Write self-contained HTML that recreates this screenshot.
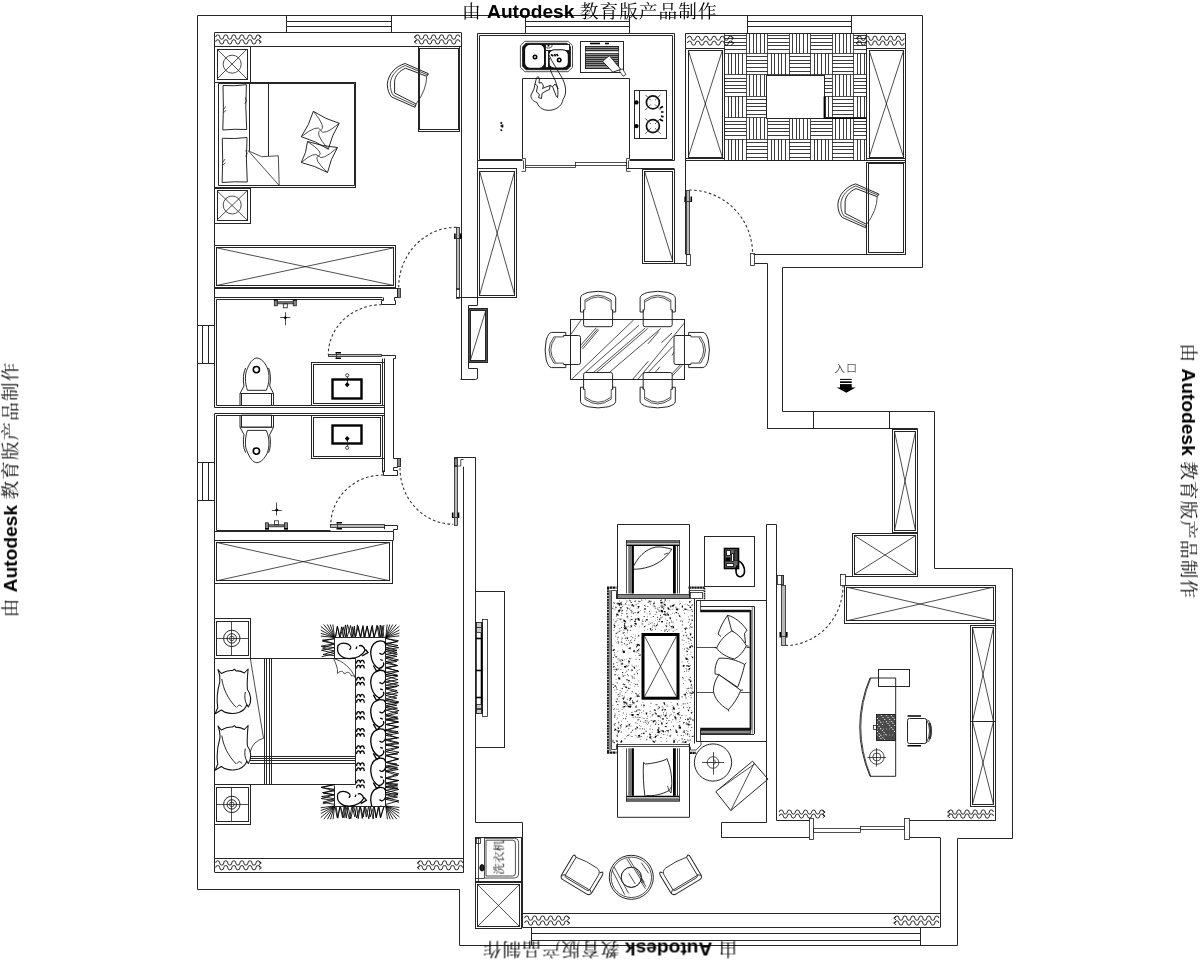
<!DOCTYPE html>
<html lang="zh"><head><meta charset="utf-8"><title>由 Autodesk 教育版产品制作</title>
<style>
html,body{margin:0;padding:0;background:#fff;}
body{width:1200px;height:960px;overflow:hidden;font-family:"Liberation Sans","Noto Serif CJK SC",sans-serif;}
svg{display:block;}
svg *{vector-effect:none;}
.g line,.g polyline,.g polygon,.g rect,.g circle,.g path,.g ellipse{fill:none;stroke:#262626;stroke-width:1;}
.g .t{stroke-width:.8;stroke:#222;}
.g .w{stroke-width:.9;stroke:#111;stroke-linejoin:round;}
.g .d{stroke-dasharray:2.6 2.4;stroke-width:1.1;stroke:#333;}
.g .k{stroke-width:2.4;stroke:#000;}
.g .k2{stroke-width:1.6;stroke:#000;}
.g .h{stroke-width:.9;stroke:#262626;}
.g .gf{fill:#888;stroke:#222;stroke-width:.8;}
.g .wf{fill:#fff;}
.g .bf{fill:#000;stroke:none;}
.g .dot{fill:#000;stroke:none;}
text{fill:#000;font-family:"Liberation Sans","Noto Serif CJK SC",serif;}
.cj{font-family:"Noto Serif CJK SC","Liberation Serif",serif;font-size:18.7px;letter-spacing:1px;}
.b{font-family:"Liberation Sans",sans-serif;font-weight:bold;}
</style></head><body>
<svg width="1200" height="960" viewBox="0 0 1200 960">
<rect width="1200" height="960" fill="#fff"/>
<g class="g">
<polygon points="197.5,15.5 922.5,15.5 922.5,267.5 782.5,267.5 782.5,411.5 934.5,411.5 934.5,568.5 1012.5,568.5 1012.5,838.5 957.5,838.5 957.5,945.5 459.5,945.5 459.5,889.5 197.5,889.5"/>
<line x1="214.5" y1="32.5" x2="461" y2="32.5"/>
<line x1="214.5" y1="32.5" x2="214.5" y2="407.5"/>
<line x1="214.5" y1="413.5" x2="214.5" y2="872"/>
<line x1="461.5" y1="32.5" x2="461.5" y2="379.2"/>
<line x1="286.7" y1="21.5" x2="391.3" y2="21.5"/>
<line x1="286.7" y1="26.5" x2="391.3" y2="26.5"/>
<line x1="286.5" y1="15.5" x2="286.5" y2="32.5"/>
<line x1="391.5" y1="15.5" x2="391.5" y2="32.5"/>
<line x1="214.5" y1="46.5" x2="461" y2="46.5"/>
<path d="M215.7 37.05 a2.01 2.15 0 0 1 4.03 0 a2.01 2.15 0 0 0 4.03 0 a2.01 2.15 0 0 1 4.03 0 a2.01 2.15 0 0 0 4.03 0 a2.01 2.15 0 0 1 4.03 0 a2.01 2.15 0 0 0 4.03 0 a2.01 2.15 0 0 1 4.03 0 a2.01 2.15 0 0 0 4.03 0 a2.01 2.15 0 0 1 4.03 0 a2.01 2.15 0 0 0 4.03 0 a2.01 2.15 0 0 1 4.03 0" class="w"/>
<path d="M215.7 41.88 a2.01 2.15 0 0 1 4.03 0 a2.01 2.15 0 0 0 4.03 0 a2.01 2.15 0 0 1 4.03 0 a2.01 2.15 0 0 0 4.03 0 a2.01 2.15 0 0 1 4.03 0 a2.01 2.15 0 0 0 4.03 0 a2.01 2.15 0 0 1 4.03 0 a2.01 2.15 0 0 0 4.03 0 a2.01 2.15 0 0 1 4.03 0 a2.01 2.15 0 0 0 4.03 0 a2.01 2.15 0 0 1 4.03 0" class="w"/>
<polyline points="258.9,35.25 261.3,37.05 258.9,38.85" class="w"/>
<polyline points="258.9,40.08 261.3,41.88 258.9,43.68" class="w"/>
<path d="M415.5 37.05 a2.01 2.15 0 0 1 4.03 0 a2.01 2.15 0 0 0 4.03 0 a2.01 2.15 0 0 1 4.03 0 a2.01 2.15 0 0 0 4.03 0 a2.01 2.15 0 0 1 4.03 0 a2.01 2.15 0 0 0 4.03 0 a2.01 2.15 0 0 1 4.03 0 a2.01 2.15 0 0 0 4.03 0 a2.01 2.15 0 0 1 4.03 0 a2.01 2.15 0 0 0 4.03 0 a2.01 2.15 0 0 1 4.03 0" class="w"/>
<path d="M415.5 41.88 a2.01 2.15 0 0 1 4.03 0 a2.01 2.15 0 0 0 4.03 0 a2.01 2.15 0 0 1 4.03 0 a2.01 2.15 0 0 0 4.03 0 a2.01 2.15 0 0 1 4.03 0 a2.01 2.15 0 0 0 4.03 0 a2.01 2.15 0 0 1 4.03 0 a2.01 2.15 0 0 0 4.03 0 a2.01 2.15 0 0 1 4.03 0 a2.01 2.15 0 0 0 4.03 0 a2.01 2.15 0 0 1 4.03 0" class="w"/>
<polyline points="416.6,35.25 414.2,37.05 416.6,38.85" class="w"/>
<polyline points="416.6,40.08 414.2,41.88 416.6,43.68" class="w"/>
<rect x="418.5" y="46.5" width="41" height="85"/>
<rect x="419.5" y="48.5" width="39" height="81"/>
<rect x="214.5" y="46.5" width="36" height="36"/>
<rect x="217.5" y="49.5" width="30" height="30"/>
<line x1="217" y1="49.1" x2="247" y2="79" class="t"/>
<line x1="217" y1="79" x2="247" y2="49.1" class="t"/>
<circle cx="232.2" cy="64.2" r="9" class="t"/>
<rect x="214.5" y="188.5" width="36" height="35"/>
<rect x="217.5" y="190.5" width="30" height="30"/>
<line x1="217" y1="190.8" x2="247" y2="220" class="t"/>
<line x1="217" y1="220" x2="247" y2="190.8" class="t"/>
<circle cx="232.2" cy="205" r="9" class="t"/>
<rect x="214.5" y="82.5" width="141" height="105"/>
<polygon points="218.5,83.5 354.5,83.5 354.5,185.5 218.5,185.5"/>
<line x1="249.5" y1="83.7" x2="249.5" y2="150.8"/>
<line x1="268.5" y1="83.7" x2="268.5" y2="156"/>
<rect x="214.5" y="245.5" width="181" height="42"/>
<rect x="216.5" y="247.5" width="177" height="38"/>
<line x1="216.5" y1="247.8" x2="393.8" y2="285.5" class="t"/>
<line x1="216.5" y1="285.5" x2="393.8" y2="247.8" class="t"/>
<line x1="214.5" y1="288.5" x2="397.5" y2="288.5"/>
<polyline points="382.5,297.5 214.5,297.5"/>
<polyline points="382.5,299.5 216.5,299.5 216.5,405.5 382.5,405.5 382.5,358.5"/>
<line x1="214.5" y1="407.5" x2="384.5" y2="407.5"/>
<line x1="202.5" y1="325.5" x2="202.5" y2="363.7"/>
<line x1="208.5" y1="325.5" x2="208.5" y2="363.7"/>
<line x1="197.5" y1="325.5" x2="214.5" y2="325.5"/>
<line x1="197.5" y1="363.5" x2="214.5" y2="363.5"/>
<line x1="214.5" y1="413.5" x2="384.5" y2="413.5"/>
<polyline points="382.5,472.5 382.5,415.5 216.5,415.5 216.5,530.5 330.5,530.5"/>
<line x1="202.5" y1="462.3" x2="202.5" y2="500"/>
<line x1="208.5" y1="462.3" x2="208.5" y2="500"/>
<line x1="197.5" y1="462.5" x2="214.5" y2="462.5"/>
<line x1="197.5" y1="500.5" x2="214.5" y2="500.5"/>
<polyline points="214.5,531.5 393.5,531.5 393.5,540.5"/>
<rect x="214.5" y="540.5" width="178" height="43"/>
<rect x="216.5" y="542.5" width="173" height="38"/>
<line x1="216.7" y1="542.5" x2="389.8" y2="580.8" class="t"/>
<line x1="216.7" y1="580.8" x2="389.8" y2="542.5" class="t"/>
<path d="M223 85.5 Q234.6 86.3 246.4 84.7 Q245.1 107.35 246.7 129.5 Q234.6 128.8 222.8 130 Q223.9 107.35 223 85.5 Z" class="w"/>
<polyline points="245.2,97.38 246.5,101.01 244.9,103.73" class="t"/>
<polyline points="223.5,109.62 225.7,106.44" class="t"/>
<polyline points="223.5,112.79 226.1,110.07" class="t"/>
<path d="M222.3 138.3 Q234.55 139.1 247 137.5 Q245.7 160 247.3 182 Q234.55 181.3 222.1 182.5 Q223.2 160 222.3 138.3 Z" class="w"/>
<polyline points="245.8,150.1 247.1,153.7 245.5,156.4" class="t"/>
<polyline points="222.8,162.25 225,159.1" class="t"/>
<polyline points="222.8,165.4 225.4,162.7" class="t"/>
<polyline points="248.3,150.8 261.7,156.7 278.3,155.8 279.2,185.5" class="t"/>
<line x1="248.3" y1="150.8" x2="279.2" y2="185.5" class="t"/>
<path d="M313.3 111.3 Q325.33 119.35 339.2 123.3 Q331.63 135.27 328.3 149.2 Q315.72 140.9 301.3 136.7 Q309.42 124.98 313.3 111.3" class="w"/>
<path d="M313.3 111.3 Q327.06 127.74 320.52 130.12" class="t"/>
<path d="M339.2 123.3 Q323.25 136.8 320.52 130.12" class="t"/>
<path d="M328.3 149.2 Q313.8 132.43 320.52 130.12" class="t"/>
<path d="M301.3 136.7 Q318 123.54 320.52 130.12" class="t"/>
<path d="M307.5 141.5 Q321.85 146.34 337.5 147.5 Q330.25 159.36 327.5 172.5 Q315.05 165.66 301.3 162.5 Q306.65 152.64 307.5 141.5" class="w"/>
<path d="M307.5 141.5 Q325.12 153.03 318.45 156" class="t"/>
<path d="M337.5 147.5 Q321.62 161.78 318.45 156" class="t"/>
<path d="M327.5 172.5 Q312.45 158.28 318.45 156" class="t"/>
<path d="M301.3 162.5 Q314.62 150.93 318.45 156" class="t"/>
<g transform="translate(0 0)">
<path d="M428.5 73.7 L405.2 63.5 C396 66 388 74 387.3 84.3 C387.5 90 389 94 391.7 97 L415 107.3 L416.1 104"/>
<path d="M427.8 74.9 L405.3 65.6 C398 68 390.5 75 390.3 84 C390.3 89 391.5 93 393.3 95.3 L415.6 105.6" class="t"/>
<path d="M426.7 76.3 L405.5 68.2 C399 71 395 76 394.6 81.4 L394.6 93 L416.1 104"/>
<line x1="428.5" y1="73.7" x2="426.7" y2="76.3"/>
<path d="M426.7 76.3 Q426.6 89.85 416.1 104" class="t"/>
</g>
<path d="M247.4 390.3 C245 383 244.5 374 247.4 368.6 C249.5 363.5 252.5 358.3 256.8 358 C261.5 358.3 265 363 267 367.2 C270 374 269.5 383 266.3 390.3 Z" class="w"/>
<path d="M240 405 L240 393.5 L244 386 C242.8 379 243.2 373 245.6 368" class="w"/>
<path d="M273.5 405 L273.5 393.5 L269.7 386 C271 379 270.6 373 268.6 368" class="w"/>
<rect x="241.5" y="393.5" width="30" height="12"/>
<line x1="240" y1="393.5" x2="273.5" y2="393.5" class="t"/>
<circle cx="256.4" cy="369.6" r="3.1" class="k2"/>
<g transform="translate(0 820.7) scale(1 -1)">
<path d="M247.4 390.3 C245 383 244.5 374 247.4 368.6 C249.5 363.5 252.5 358.3 256.8 358 C261.5 358.3 265 363 267 367.2 C270 374 269.5 383 266.3 390.3 Z" class="w"/>
<path d="M240 405 L240 393.5 L244 386 C242.8 379 243.2 373 245.6 368" class="w"/>
<path d="M273.5 405 L273.5 393.5 L269.7 386 C271 379 270.6 373 268.6 368" class="w"/>
<rect x="241.5" y="393.5" width="30" height="12"/>
<line x1="240" y1="393.5" x2="273.5" y2="393.5" class="t"/>
<circle cx="256.4" cy="369.6" r="3.1" class="k2"/>
</g>
<g transform="translate(273.8 299.3)">
<rect x="0.5" y="0.5" width="3" height="6" class="gf"/>
<rect x="19.5" y="0.5" width="3" height="6" class="gf"/>
<rect x="3.5" y="2.5" width="16" height="2" class="gf"/>
<rect x="9.5" y="4.5" width="4" height="4" class="t"/>
<line x1="0" y1="0.5" x2="4" y2="0.5" class="k2"/>
<line x1="19" y1="0.5" x2="23" y2="0.5" class="k2"/>
</g>
<g transform="translate(265 529.3) scale(1 -1)">
<rect x="0.5" y="0.5" width="3" height="6" class="gf"/>
<rect x="19.5" y="0.5" width="3" height="6" class="gf"/>
<rect x="3.5" y="2.5" width="16" height="2" class="gf"/>
<rect x="9.5" y="4.5" width="4" height="4" class="t"/>
<line x1="0" y1="0.5" x2="4" y2="0.5" class="k2"/>
<line x1="19" y1="0.5" x2="23" y2="0.5" class="k2"/>
</g>
<line x1="280.3" y1="317.5" x2="290.3" y2="317.5" class="t"/>
<line x1="285.5" y1="312.3" x2="285.5" y2="325.3" class="t"/>
<polygon points="283.5,317.8 285.3,316 287.1,317.8 285.3,319.6" class="bf"/>
<line x1="271.8" y1="510.5" x2="281.8" y2="510.5" class="t"/>
<line x1="276.5" y1="515.5" x2="276.5" y2="502.5" class="t"/>
<polygon points="275,510 276.8,508.2 278.6,510 276.8,511.8" class="bf"/>
<rect x="311.5" y="362.5" width="73" height="43"/>
<rect x="313.5" y="364.5" width="67" height="39"/>
<rect x="332.5" y="379.5" width="29" height="19" class="k"/>
<line x1="347.5" y1="375.3" x2="347.5" y2="384.7" class="t"/>
<circle cx="347.2" cy="375.3" r="1.6" class="t" style="fill:#fff"/>
<polygon points="344.8,384.7 347.2,382.1 349.6,384.7 347.2,387.3" class="bf"/>
<rect x="311.5" y="415.5" width="73" height="43"/>
<rect x="313.5" y="417.5" width="67" height="39"/>
<rect x="332.5" y="425.5" width="29" height="18" class="k"/>
<line x1="347.5" y1="447.8" x2="347.5" y2="438.6" class="t"/>
<circle cx="347.2" cy="447.8" r="1.6" class="t" style="fill:#fff"/>
<polygon points="344.8,438.6 347.2,436 349.6,438.6 347.2,441.2" class="bf"/>
<rect x="456.5" y="227.5" width="3" height="62" class="t" style="fill:#b8b8b8"/>
<path d="M454.9 233.5 v5.5 M460.7 233.5 v5.5" class="k2"/>
<line x1="454.9" y1="238.5" x2="460.7" y2="238.5" class="t"/>
<rect x="456.5" y="288.5" width="3" height="10" class="t"/>
<path d="M456.4 227.3 A57.7 60 0 0 0 398.7 287.3" class="d"/>
<rect x="397.5" y="288.5" width="3" height="9" class="gf"/>
<polyline points="397.5,288.5 397.5,297.5 394.5,297.5 394.5,300.5 395.5,300.5 395.5,304.5 381.5,304.5 381.5,300.5 383.5,300.5 383.5,297.5"/>
<path d="M381.7 304.7 A53.4 50 0 0 0 328.3 354.4" class="d"/>
<rect x="328.5" y="354.5" width="53" height="2" class="t" style="fill:#b8b8b8"/>
<path d="M335.5 352.7 h5.5 M335.5 358.3 h5.5" class="k2"/>
<line x1="336.5" y1="352.7" x2="336.5" y2="358.3" class="t"/>
<polyline points="381.5,355.5 395.5,355.5 395.5,358.5 393.5,358.5 393.5,458.5"/>
<line x1="384.5" y1="358.4" x2="384.5" y2="472"/>
<polyline points="393.5,458.5 400.5,458.5 400.5,466.5 397.5,466.5 397.5,467.5 393.5,467.5 393.5,470.5 397.5,470.5 397.5,475.5 383.5,475.5 383.5,470.5"/>
<rect x="397.5" y="458.5" width="3" height="8" class="gf"/>
<path d="M383.3 475 A52.5 50 0 0 0 330.8 525" class="d"/>
<rect x="330.5" y="524.5" width="54" height="3" class="t" style="fill:#b8b8b8"/>
<path d="M336.5 522.8 h5.5 M336.5 528.8 h5.5" class="k2"/>
<line x1="337.5" y1="522.8" x2="337.5" y2="528.8" class="t"/>
<polyline points="384.5,525.5 397.5,525.5 397.5,529.5 393.5,529.5 393.5,531.5"/>
<line x1="384.5" y1="529.2" x2="384.5" y2="525.8"/>
<path d="M400 468 A53.3 56 0 0 0 453.3 524.2" class="d"/>
<rect x="454.5" y="466.5" width="3" height="59" class="t" style="fill:#b8b8b8"/>
<path d="M452.7 512.5 v5.5 M458.5 512.5 v5.5" class="k2"/>
<line x1="452.7" y1="517.5" x2="458.5" y2="517.5" class="t"/>
<polyline points="454.5,466.5 454.5,457.5 475.5,457.5 475.5,822.5 522.5,822.5 522.5,927.5"/>
<polyline points="454.7,466 460.8,466 460.8,459.5 463.6,459.5" class="t"/>
<rect x="454.5" y="458.5" width="3" height="7" class="gf"/>
<line x1="463.5" y1="466.7" x2="463.5" y2="872"/>
<rect x="214.5" y="618.5" width="36" height="40"/>
<rect x="216.5" y="621.5" width="32" height="34"/>
<line x1="216.7" y1="638.5" x2="248.2" y2="638.5" class="t"/>
<line x1="231.5" y1="621.2" x2="231.5" y2="655.3" class="t"/>
<circle cx="231.8" cy="638.4" r="8.2"/>
<circle cx="231.8" cy="638.4" r="4.7"/>
<circle cx="231.8" cy="638.4" r="2.3" class="t"/>
<rect x="214.5" y="784.5" width="36" height="40"/>
<rect x="216.5" y="787.5" width="32" height="34"/>
<line x1="216.7" y1="804.5" x2="248.2" y2="804.5" class="t"/>
<line x1="231.5" y1="787" x2="231.5" y2="821" class="t"/>
<circle cx="231.8" cy="804.4" r="8.2"/>
<circle cx="231.8" cy="804.4" r="4.7"/>
<circle cx="231.8" cy="804.4" r="2.3" class="t"/>
<polyline points="250.5,658.5 355.5,658.5 355.5,784.5 250.5,784.5"/>
<line x1="264.5" y1="658.5" x2="264.5" y2="784.5"/>
<line x1="266.5" y1="658.5" x2="266.5" y2="784.5"/>
<line x1="269.5" y1="658.5" x2="269.5" y2="784.5"/>
<line x1="271.5" y1="658.5" x2="271.5" y2="784.5"/>
<line x1="250" y1="756.5" x2="355.5" y2="756.5"/>
<line x1="250" y1="758.5" x2="355.5" y2="758.5"/>
<line x1="250" y1="760.5" x2="355.5" y2="760.5"/>
<line x1="250" y1="763.5" x2="355.5" y2="763.5"/>
<line x1="250.3" y1="658.3" x2="263.5" y2="738.3" class="t"/>
<path d="M263.5 738.3 Q253 741 250.3 751.7" class="t"/>
<g transform="translate(214.8 668)">
<path d="M3.2 1.5 L6.5 5.5 C10 3.5 14 2.2 17.5 2.6 L19.5 1.2 L21.5 3 C24 2.6 27 3.5 29.5 5 L33.3 1 C32.6 9 32 16 32.6 21.5 C36.5 26 37 34 33.5 39 L32 36.5 C31 40 28 43 24 44.5 C17 46.5 10 45 6.5 42 L.3 45.8 L3 39.5 C1.5 31 3 21 5 14 C5.6 9 4.6 5 3.2 1.5 Z" style="stroke-width:1.05;stroke:#111;stroke-linejoin:round"/>
<path d="M7 11 C8.5 21 13 31 21.5 39.5" class="w"/>
<path d="M22.5 39 C23.5 36.5 26 36.5 26.8 39" class="w"/>
<path d="M30.5 24 C29.5 29 30 33 32 36.5" class="w"/>
</g>
<g transform="translate(214.8 724.5)">
<path d="M3.2 1.5 L6.5 5.5 C10 3.5 14 2.2 17.5 2.6 L19.5 1.2 L21.5 3 C24 2.6 27 3.5 29.5 5 L33.3 1 C32.6 9 32 16 32.6 21.5 C36.5 26 37 34 33.5 39 L32 36.5 C31 40 28 43 24 44.5 C17 46.5 10 45 6.5 42 L.3 45.8 L3 39.5 C1.5 31 3 21 5 14 C5.6 9 4.6 5 3.2 1.5 Z" style="stroke-width:1.05;stroke:#111;stroke-linejoin:round"/>
<path d="M7 11 C8.5 21 13 31 21.5 39.5" class="w"/>
<path d="M22.5 39 C23.5 36.5 26 36.5 26.8 39" class="w"/>
<path d="M30.5 24 C29.5 29 30 33 32 36.5" class="w"/>
</g>
<clipPath id="frc"><rect x="320.8" y="624.5" width="78.6" height="194.8"/></clipPath>
<path clip-path="url(#frc)" d="M335.29 637.5 L337.48 626.73 L339.71 637.5 L341.5 626.81 L343.34 637.5 L345.45 624.92 L346.95 637.5 L350.58 625.51 L352.91 637.5 L354.36 626.2 L355.26 637.5 L358.21 626.47 L360.66 637.5 L362.8 626.75 L364.01 637.5 L367.13 626.15 L369.84 637.5 L372.34 625.22 L374.07 637.5 L376.98 625.15 L379.18 637.5 L380.24 625.08 L382.13 637.5 L383.93 625.07M335.95 806 L337.86 818.23 L340.23 806 L344 817.94 L345.77 806 L349.38 819.18 L352.08 806 L354.82 816.85 L356.64 806 L358.24 818.64 L360.23 806 L363.26 816.99 L365.27 806 L368.86 818.87 L370.43 806 L373.21 819.1 L374.16 806 L376.2 817.96 L378.91 806 L380.61 817.69 L383.88 806M385.8 638.52 L398.42 640.7 L385.8 644.87 L398.71 647.65 L385.8 649.61 L396.95 652.33 L385.8 654.36 L396.93 656.35 L385.8 658.27 L396.86 661.43 L385.8 663.28 L397.63 665.55 L385.8 667.87 L397.92 670.92 L385.8 672.14 L397.44 675.19 L385.8 676.05 L398.07 679.6 L385.8 682.04 L399.15 685.6 L385.8 687.77 L397.2 690.62 L385.8 693.19 L397.34 695.39 L385.8 698.91 L398.76 701.89 L385.8 703.57 L396.87 705.2 L385.8 707.53 L399.1 710.64 L385.8 714.67 L397.68 717.16 L385.8 719.08 L398.3 721.83 L385.8 724.51 L398.72 726.84 L385.8 730.65 L398.6 733.2 L385.8 735.43 L398.72 737.81 L385.8 739.42 L398.54 742.54 L385.8 744.27 L398.74 747.57 L385.8 751.73 L397.64 754.02 L385.8 755.14 L398.36 759.2 L385.8 762.46 L398.78 765.43 L385.8 767.53 L398.21 769.48 L385.8 771.66 L397.65 775.37 L385.8 778.57 L399 780.43 L385.8 783.02 L397.86 784.15 L385.8 786.4 L397.94 788.15 L385.8 790.29 L398.13 793.37 L385.8 794.82 L397.46 797.07 L385.8 799.33 L398.99 802.21M334.5 638.51 L322.46 641.17 L334.5 643.97 L322.48 648.1 L334.5 651.02 L323.06 654.54 L334.5 655.6M334.5 784.49 L320.98 787.34 L334.5 790.93 L322.52 792.6 L334.5 794.79 L321.33 798.59 L334.5 800.51 L322.8 803.88M335.52 637.5 L337.31 626.14 L340.05 637.5 L343.16 626.86 L345.54 637.5 L347.4 624.54 L351.56 637.5 L352.42 626.8 L355.49 637.5 L357.43 624.71 L360.37 637.5 L362.96 625.53 L364.87 637.5 L367.2 625.88 L369.14 637.5 L371.75 626.7 L374.08 637.5 L377.77 626.09 L380.94 637.5 L382.02 625.64 L383.98 637.5M334.96 806 L337.18 817.53 L340.17 806 L342.54 817.63 L344.16 806 L346.27 818.12 L347.84 806 L350.77 818.77 L353.6 806 L356.64 818.02 L360.23 806 L362.23 818.5 L364.49 806 L366.26 817.11 L368.73 806 L370.05 817 L374.08 806 L376.21 817.38 L378.51 806 L380.31 817.43 L384.37 806M385.8 638.19 L397.54 641.76 L385.8 643.29 L398.01 645.52 L385.8 647.8 L397.02 650.3 L385.8 651.43 L397.36 654.22 L385.8 656.97 L398.52 659.94 L385.8 661.56 L397.16 665.5 L385.8 667.47 L398.94 671.34 L385.8 674.53 L398.06 675.94 L385.8 679.47 L398.2 682.73 L385.8 685.36 L396.87 686.65 L385.8 688.83 L398.14 692.63 L385.8 695.45 L396.81 698.07 L385.8 700.71 L398.38 702.76 L385.8 705.95 L397.44 708.17 L385.8 710.1 L397.99 713.12 L385.8 715.94 L398.28 718.92 L385.8 719.99 L398.58 722.18 L385.8 724.47 L397.45 726.88 L385.8 729.77 L398.04 731.6 L385.8 733.61 L397.28 737.93 L385.8 740.15 L398.77 743.71 L385.8 745.27 L399.07 747.12 L385.8 749.7 L399.09 752.24 L385.8 755.83 L398.49 758.77 L385.8 762.37 L396.81 763.93 L385.8 766.1 L397.63 767.9 L385.8 770.7 L398.81 773.85 L385.8 777.91 L397.5 780.81 L385.8 783.84 L397.67 785.84 L385.8 787.43 L398.8 789.42 L385.8 792.75 L398.03 794.71 L385.8 797.87 L398.75 800.75 L385.8 804.45M334.5 638.76 L322.56 640.17 L334.5 643.65 L320.92 646.22 L334.5 647.57 L321.51 650.25 L334.5 653.41 L321.52 656.8M334.5 784.6 L321.3 787.46 L334.5 789.33 L323.19 793.18 L334.5 794.79 L321.62 796.49 L334.5 798.82 L322.93 802.26 L334.5 804.37M334.5 637.5 L315.72 635.53M334.5 637.5 L316.63 632.04M334.5 637.5 L319.22 629.37M334.5 637.5 L320.21 625.93M334.5 637.5 L320.46 620.77M334.5 637.5 L325.95 622.08M334.5 637.5 L328.47 618.94M334.5 637.5 L332.04 617.5M385.8 637.5 L388.03 616.3M385.8 637.5 L391.09 620.21M385.8 637.5 L394.42 621.29M385.8 637.5 L397.28 623.32M385.8 637.5 L400.35 625.29M385.8 637.5 L402.62 628.18M385.8 637.5 L406.5 630.77M385.8 637.5 L406.89 634.91M385.8 806 L407.05 808.23M385.8 806 L402.16 811M385.8 806 L400.95 814.06M385.8 806 L401.77 818.93M385.8 806 L399.61 822.45M385.8 806 L395.19 822.94M385.8 806 L391.96 824.96M385.8 806 L387.87 822.87M334.5 806 L332.52 824.85M334.5 806 L328.17 826.69M334.5 806 L324.58 824.65M334.5 806 L321.11 822.54M334.5 806 L317.75 820.05M334.5 806 L318.54 814.84M334.5 806 L317.81 811.42M334.5 806 L316.86 808.17" style="stroke-width:.85;stroke:#000;stroke-linejoin:bevel"/>
<polyline points="334.5,658.5 334.5,637.5 385.5,637.5 385.5,806.5 334.5,806.5 334.5,785.5"/>
<path d="M356.5 663.5 c.3 -4.2 3.6 -4.2 3.8 -.4 c.4 -3.8 3.8 -3.8 4 .4 M356.5 668.5 c.3 -4.2 3.6 -4.2 3.8 -.4 c.4 -3.8 3.8 -3.8 4 .4" style="stroke-width:1.25;stroke:#000"/>
<path d="M356.5 680.6 c.3 -4.2 3.6 -4.2 3.8 -.4 c.4 -3.8 3.8 -3.8 4 .4 M356.5 685.6 c.3 -4.2 3.6 -4.2 3.8 -.4 c.4 -3.8 3.8 -3.8 4 .4" style="stroke-width:1.25;stroke:#000"/>
<path d="M356.5 697.7 c.3 -4.2 3.6 -4.2 3.8 -.4 c.4 -3.8 3.8 -3.8 4 .4 M356.5 702.7 c.3 -4.2 3.6 -4.2 3.8 -.4 c.4 -3.8 3.8 -3.8 4 .4" style="stroke-width:1.25;stroke:#000"/>
<path d="M356.5 714.8 c.3 -4.2 3.6 -4.2 3.8 -.4 c.4 -3.8 3.8 -3.8 4 .4 M356.5 719.8 c.3 -4.2 3.6 -4.2 3.8 -.4 c.4 -3.8 3.8 -3.8 4 .4" style="stroke-width:1.25;stroke:#000"/>
<path d="M356.5 731.9 c.3 -4.2 3.6 -4.2 3.8 -.4 c.4 -3.8 3.8 -3.8 4 .4 M356.5 736.9 c.3 -4.2 3.6 -4.2 3.8 -.4 c.4 -3.8 3.8 -3.8 4 .4" style="stroke-width:1.25;stroke:#000"/>
<path d="M356.5 749 c.3 -4.2 3.6 -4.2 3.8 -.4 c.4 -3.8 3.8 -3.8 4 .4 M356.5 754 c.3 -4.2 3.6 -4.2 3.8 -.4 c.4 -3.8 3.8 -3.8 4 .4" style="stroke-width:1.25;stroke:#000"/>
<path d="M356.5 766.1 c.3 -4.2 3.6 -4.2 3.8 -.4 c.4 -3.8 3.8 -3.8 4 .4 M356.5 771.1 c.3 -4.2 3.6 -4.2 3.8 -.4 c.4 -3.8 3.8 -3.8 4 .4" style="stroke-width:1.25;stroke:#000"/>
<path d="M356.5 783.2 c.3 -4.2 3.6 -4.2 3.8 -.4 c.4 -3.8 3.8 -3.8 4 .4 M356.5 788.2 c.3 -4.2 3.6 -4.2 3.8 -.4 c.4 -3.8 3.8 -3.8 4 .4" style="stroke-width:1.25;stroke:#000"/>
<clipPath id="rgc"><rect x="334.5" y="637.5" width="51.3" height="168.5"/></clipPath><g clip-path="url(#rgc)">
<g transform="translate(370.3 640) scale(1 1)">
<path d="M13.5 1.5 C5 -1 0 6 .5 14 C1 21 4 26 8.5 28.5 M13.5 1.5 C17.5 5 16 13 11.5 14.5 M11.5 14.5 l-2.4 -1.4 M12.5 20.5 l-2.6 -1 M8.5 28.5 C12 28 14.5 25 13 22.5 M3 25.5 L6.5 31.5 L9.5 29" style="stroke-width:1.3;stroke:#000"/>
</g>
<g transform="translate(370.3 669.3) scale(1 1)">
<path d="M13.5 1.5 C5 -1 0 6 .5 14 C1 21 4 26 8.5 28.5 M13.5 1.5 C17.5 5 16 13 11.5 14.5 M11.5 14.5 l-2.4 -1.4 M12.5 20.5 l-2.6 -1 M8.5 28.5 C12 28 14.5 25 13 22.5 M3 25.5 L6.5 31.5 L9.5 29" style="stroke-width:1.3;stroke:#000"/>
</g>
<g transform="translate(370.3 698.6) scale(1 1)">
<path d="M13.5 1.5 C5 -1 0 6 .5 14 C1 21 4 26 8.5 28.5 M13.5 1.5 C17.5 5 16 13 11.5 14.5 M11.5 14.5 l-2.4 -1.4 M12.5 20.5 l-2.6 -1 M8.5 28.5 C12 28 14.5 25 13 22.5 M3 25.5 L6.5 31.5 L9.5 29" style="stroke-width:1.3;stroke:#000"/>
</g>
<g transform="translate(370.3 727.9) scale(1 1)">
<path d="M13.5 1.5 C5 -1 0 6 .5 14 C1 21 4 26 8.5 28.5 M13.5 1.5 C17.5 5 16 13 11.5 14.5 M11.5 14.5 l-2.4 -1.4 M12.5 20.5 l-2.6 -1 M8.5 28.5 C12 28 14.5 25 13 22.5 M3 25.5 L6.5 31.5 L9.5 29" style="stroke-width:1.3;stroke:#000"/>
</g>
<g transform="translate(370.3 757.2) scale(1 1)">
<path d="M13.5 1.5 C5 -1 0 6 .5 14 C1 21 4 26 8.5 28.5 M13.5 1.5 C17.5 5 16 13 11.5 14.5 M11.5 14.5 l-2.4 -1.4 M12.5 20.5 l-2.6 -1 M8.5 28.5 C12 28 14.5 25 13 22.5 M3 25.5 L6.5 31.5 L9.5 29" style="stroke-width:1.3;stroke:#000"/>
</g>
<g transform="translate(370.3 786.5) scale(1 1)">
<path d="M13.5 1.5 C5 -1 0 6 .5 14 C1 21 4 26 8.5 28.5 M13.5 1.5 C17.5 5 16 13 11.5 14.5 M11.5 14.5 l-2.4 -1.4 M12.5 20.5 l-2.6 -1 M8.5 28.5 C12 28 14.5 25 13 22.5 M3 25.5 L6.5 31.5 L9.5 29" style="stroke-width:1.3;stroke:#000"/>
</g>
</g>
<g transform="translate(336.5 659) rotate(-90)">
<g transform="translate(0 0) scale(1 1)">
<path d="M13.5 1.5 C5 -1 0 6 .5 14 C1 21 4 26 8.5 28.5 M13.5 1.5 C17.5 5 16 13 11.5 14.5 M11.5 14.5 l-2.4 -1.4 M12.5 20.5 l-2.6 -1 M8.5 28.5 C12 28 14.5 25 13 22.5 M3 25.5 L6.5 31.5 L9.5 29" style="stroke-width:1.3;stroke:#000"/>
</g>
</g>
<g transform="translate(336.5 806.5) rotate(-90)">
<g transform="translate(0 0) scale(0.95 0.95)">
<path d="M13.5 1.5 C5 -1 0 6 .5 14 C1 21 4 26 8.5 28.5 M13.5 1.5 C17.5 5 16 13 11.5 14.5 M11.5 14.5 l-2.4 -1.4 M12.5 20.5 l-2.6 -1 M8.5 28.5 C12 28 14.5 25 13 22.5 M3 25.5 L6.5 31.5 L9.5 29" style="stroke-width:1.3;stroke:#000"/>
</g>
</g>
<path d="M333.5 658.5 C336 664 338 668 337.5 673.5 C341 670 343 671 344.5 674 C347 671 350 672 351.5 676 C353 675 354.5 676 355.5 678" class="t"/>
<path d="M333.5 658.5 C343 661 351 668 355.5 678" class="t"/>
<line x1="214.5" y1="858.5" x2="463.8" y2="858.5"/>
<line x1="214.5" y1="872.5" x2="463.8" y2="872.5"/>
<path d="M215.7 862.96 a2.01 2.15 0 0 1 4.03 0 a2.01 2.15 0 0 0 4.03 0 a2.01 2.15 0 0 1 4.03 0 a2.01 2.15 0 0 0 4.03 0 a2.01 2.15 0 0 1 4.03 0 a2.01 2.15 0 0 0 4.03 0 a2.01 2.15 0 0 1 4.03 0 a2.01 2.15 0 0 0 4.03 0 a2.01 2.15 0 0 1 4.03 0 a2.01 2.15 0 0 0 4.03 0 a2.01 2.15 0 0 1 4.03 0" class="w"/>
<path d="M215.7 867.68 a2.01 2.15 0 0 1 4.03 0 a2.01 2.15 0 0 0 4.03 0 a2.01 2.15 0 0 1 4.03 0 a2.01 2.15 0 0 0 4.03 0 a2.01 2.15 0 0 1 4.03 0 a2.01 2.15 0 0 0 4.03 0 a2.01 2.15 0 0 1 4.03 0 a2.01 2.15 0 0 0 4.03 0 a2.01 2.15 0 0 1 4.03 0 a2.01 2.15 0 0 0 4.03 0 a2.01 2.15 0 0 1 4.03 0" class="w"/>
<polyline points="258.9,861.16 261.3,862.96 258.9,864.75" class="w"/>
<polyline points="258.9,865.88 261.3,867.68 258.9,869.48" class="w"/>
<path d="M418.5 862.96 a2 2.15 0 0 1 4.01 0 a2 2.15 0 0 0 4.01 0 a2 2.15 0 0 1 4.01 0 a2 2.15 0 0 0 4.01 0 a2 2.15 0 0 1 4.01 0 a2 2.15 0 0 0 4.01 0 a2 2.15 0 0 1 4.01 0 a2 2.15 0 0 0 4.01 0 a2 2.15 0 0 1 4.01 0 a2 2.15 0 0 0 4.01 0 a2 2.15 0 0 1 4.01 0" class="w"/>
<path d="M418.5 867.68 a2 2.15 0 0 1 4.01 0 a2 2.15 0 0 0 4.01 0 a2 2.15 0 0 1 4.01 0 a2 2.15 0 0 0 4.01 0 a2 2.15 0 0 1 4.01 0 a2 2.15 0 0 0 4.01 0 a2 2.15 0 0 1 4.01 0 a2 2.15 0 0 0 4.01 0 a2 2.15 0 0 1 4.01 0 a2 2.15 0 0 0 4.01 0 a2 2.15 0 0 1 4.01 0" class="w"/>
<polyline points="419.6,861.16 417.2,862.96 419.6,864.75" class="w"/>
<polyline points="419.6,865.88 417.2,867.68 419.6,869.48" class="w"/>
<rect x="475.5" y="591.5" width="29" height="156"/>
<rect x="482.5" y="619.5" width="5" height="97" class="t"/>
<rect x="476.5" y="622.5" width="6" height="91" class="t"/>
<line x1="481.5" y1="622.5" x2="481.5" y2="713.5" class="k2"/>
<rect x="476.5" y="622.5" width="5" height="5" class="t" style="fill:#ccc"/>
<rect x="476.5" y="627.5" width="5" height="5" class="t" style="fill:#ccc"/>
<rect x="476.5" y="704.5" width="5" height="4" class="t" style="fill:#ccc"/>
<rect x="476.5" y="709.5" width="5" height="4" class="t" style="fill:#ccc"/>
<line x1="476" y1="638.5" x2="481" y2="638.5" class="k2"/>
<line x1="476" y1="670.5" x2="481" y2="670.5" class="k2"/>
<line x1="476" y1="697.5" x2="481" y2="697.5" class="k2"/>
<path d="M685.94 665.52l1.91 -0.5l-1.1 1.85zM675.44 611.65l1.66 0.5l0.2 1.3l-1.5 -0.4zM615.35 740.42l2.46 0.18l-0.51 1.92zM654.27 606.63l1.53 -0.75l-0.71 1.47zM691.66 719.83l2.15 -0.43l-0.52 1.55zM688.64 720.86l1.3 0.66l-1.03 1.43zM643.79 608.59l2.06 -0.37l-0.82 2.06zM689.13 707.92l1.44 -0.64l-0.98 1.47zM626.21 679.1l1.84 0.37l-1.08 1.41zM621.32 659.01l1.56 0.75l0.45 1.5l-1.4 -0.4zM636.33 726.31l1.55 0.57l0.27 1.63l-1.4 -0.4zM620.03 741.45l1.56 0.44l-0.59 1.48zM617.87 611.07l2 0.16l-0.94 1.47zM688.73 668.14l1.99 -0.51l-1.48 2.15zM627.18 705.22l2.43 0.72l0.42 1.42l-2.19 -0.4zM620.31 603.61l2.46 0.33l-1.7 1.46zM626.03 702.45l1.38 0.09l-0.21 1.45l-1.24 -0.4zM685.39 627.58l1.32 -0.09l-0.4 1.5zM622.53 650.51l2.37 0.25l-0.05 2.28l-2.13 -0.4zM658.76 618.35l1.34 0.66l0.36 1.22l-1.21 -0.4zM689.02 601.08l2.06 0.37l-1.65 1.73zM618.02 677.18l2.18 0.38l0.08 2.19l-1.97 -0.4zM675.46 730.68l1.72 0.64l0.34 1.95l-1.55 -0.4zM645.37 712.63l2.34 0.2l-1.28 1.83zM660.71 609.63l2.07 0.61l0.31 2.29l-1.86 -0.4zM643.07 704.58l2 0.54l-1.3 1.68zM614.38 685.19l1.88 0.32l-1.07 1.45zM685.64 635.1l1.31 0.29l-0.4 1.53zM684.46 693.7l1.83 -0.28l-0.58 2.18l-1.65 -0.4zM627.88 660.48l2.27 0.61l-1.25 2.21zM637.32 617.75l1.9 0.56l0.26 2.12l-1.71 -0.4zM688 638.14l1.5 -0.36l-0.67 1.7zM637.23 719.67l2.48 -0.68l-1.79 1.7zM615.32 700.75l1.98 0.47l-0.56 1.54zM648.39 601.59l2.3 -0.57l-1.33 1.46zM664.4 715.07l2.45 -0.48l-0.75 1.95zM612.86 666.47l2.16 -0.36l-1.33 1.4zM675.35 729.4l1.4 0.36l-0.66 2.23zM662.04 729.94l1.75 0.61l0.31 1.83l-1.58 -0.4zM687.54 665.24l2.08 0.36l0.06 1.43l-1.87 -0.4zM663.33 702.06l1.56 0.77l0.47 2.19l-1.4 -0.4zM654.96 712.66l1.68 0.57l-0.42 2.2zM614.27 715.33l1.38 -0.52l-0.93 2.08zM623.24 619.56l1.92 0.54l0.24 2l-1.73 -0.4zM687.66 669.42l2.44 -0.45l-0.91 1.29zM653.82 720.33l1.97 -0.19l-0.49 1.54l-1.77 -0.4zM684.04 628.19l2.32 0.04l-0.74 2.27zM660.42 602.02l2.46 -0.16l-0.46 1.77l-2.22 -0.4zM667.28 607.56l1.95 0.73l0.43 1.66l-1.75 -0.4zM633.54 666.61l1.45 0.51l0.21 1.68l-1.31 -0.4zM627.32 687.59l2.41 0.45l-0.76 1.34zM630.18 697.62l1.69 0.19l-1.08 1.59zM621.82 672.02l1.6 0.05l-0.68 1.42zM624.78 627.62l2.06 0.05l-0.25 1.9l-1.85 -0.4zM660.94 722.23l1.58 0.5l0.2 2.01l-1.42 -0.4zM637.27 643.67l2.41 0.8l0.5 1.44l-2.17 -0.4zM622.71 632.71l2.17 -0.64l-0.94 1.49l-1.95 -0.4zM645.73 712.54l1.45 0.3l-0.47 1.64zM666.59 730.15l2.46 0.01l-0.29 1.33l-2.22 -0.4zM627.12 608.23l1.43 0.08l-0.77 1.24zM623.72 624.76l1.54 0.78l0.48 2.12l-1.39 -0.4zM619.62 606.98l2.44 0.42l-1.17 1.71zM660.07 599.92l2.14 -0.51l-1.38 2.13zM644.42 626.29l1.5 -0.78l-1.08 1.76l-1.35 -0.4zM652.34 740.49l2.27 0.66l0.36 1.48l-2.04 -0.4zM674.24 716.12l1.79 0.61l0.31 2.19l-1.61 -0.4zM673.38 708.96l1.79 -0.69l-0.86 1.99zM612.85 649.57l2.07 -0.43l-0.73 1.89l-1.86 -0.4zM691.99 691.13l2.14 0.77l-1.22 2.04zM644.12 605.32l1.53 -0.64l-1.14 1.61zM689.37 680.36l2.49 0.5l-1.39 1.9zM672.74 604.54l2.42 -0.05l-1.2 1.38zM660.89 606.49l2.43 0.04l-1.02 1.66zM634.86 692.99l1.97 0.35l-0.41 1.51zM631.6 604.2l1.49 -0.18l-0.48 2.03l-1.34 -0.4zM671.87 605.27l2.49 -0.68l-0.98 2.24l-2.24 -0.4zM689.85 633.34l1.93 0.36l-1.52 2.23zM621.21 688.52l1.85 -0.72l-0.51 1.42zM691.81 736.13l2.18 -0.62l-0.92 1.46l-1.96 -0.4zM672.27 625.52l1.6 0.67l0.37 2.28l-1.44 -0.4zM615.16 606.81l1.63 0.2l-0.85 1.67zM617.8 610.53l2.11 0.21l-1.03 1.81zM628.85 647.84l2.19 -0.68l-1.5 2.12zM661.9 709.47l1.56 -0.39l-0.69 1.67l-1.4 -0.4zM691.13 645.18l1.96 0.67l-0.83 2.02zM619.76 724.9l1.39 0.1l-0.85 1.29zM635.91 710.45l1.39 0.26l-0.53 1.43zM634.63 618.72l1.73 -0.21l-1.08 2zM657.54 731.19l2.43 -0.1l-0.4 2.2l-2.19 -0.4zM636.38 644.05l1.78 0.63l-0.74 2.23zM627.6 679.75l2.26 0.54l-0.69 1.79zM672.72 725.73l1.64 0.03l-0.89 1.22zM689.31 692.42l2.27 0.07l-0.23 1.27l-2.04 -0.4zM618.72 609.84l2.18 -0.66l-0.96 2.19l-1.97 -0.4zM623.51 706.14l2.08 -0.45l-0.75 1.47l-1.87 -0.4zM653.72 708.88l1.77 0.75l0.45 1.57l-1.6 -0.4zM685.2 657.54l2.29 0.57l0.27 1.93l-2.06 -0.4zM678.71 726.85l2.45 0.04l-0.26 1.9l-2.2 -0.4zM645.64 619.2l2.19 -0.2l-0.71 2.29zM689.58 606.59l1.67 0.24l-0.06 1.33l-1.5 -0.4zM626.35 607.04l1.85 0.65l-0.49 1.84zM626.76 629.52l1.58 0.15l-0.49 1.99zM634.48 623.01l2.21 0.08l-0.22 1.54l-1.99 -0.4zM682.99 730.57l1.71 0.73l-0.57 1.8zM615.98 735.39l2.26 0.04l-0.82 1.62zM691.22 693.35l1.59 -0.04l-1.07 1.21zM624.58 620.75l1.69 0.59l-0.98 1.49zM691.45 636.64l1.94 0.43l-1.35 1.37zM679.69 717.2l1.4 0.35l-0.68 1.5zM649.49 736.55l2 -0.31l-0.61 2.14l-1.8 -0.4zM645.36 730.93l1.41 -0.47l-0.73 2.11zM624.6 718.64l1.67 -0.68l-0.8 1.54zM666.97 613.33l1.77 0.75l0.45 1.71l-1.6 -0.4zM664.31 599.79l1.75 -0.42l-0.83 1.98zM612.84 741.79l2.26 0.19l-0.96 1.43zM638.99 654.87l2.1 -0.48l-0.78 1.48l-1.89 -0.4zM638.35 735.03l1.98 -0.27l-0.57 2l-1.78 -0.4zM619.38 618.42l1.41 0.33l-0.62 1.95zM619.21 630.85l1.49 -0.15l-1.12 1.34zM663.78 709.19l2.29 -0.27l-0.48 1.62zM690.56 712.5l2.09 -0.77l-0.85 1.87zM664.06 613.41l1.75 0.46l0.16 1.76l-1.58 -0.4zM660.91 620.96l2.22 0.08l-1.11 2.19zM623.34 701.45l2.48 0.34l0.04 1.77l-2.24 -0.4zM627.78 735.01l2.05 -0.67l-1.12 1.42zM686.32 650.37l1.86 0.76l-1.38 1.34zM684.75 741.86l2.28 -0.6l-0.9 1.86l-2.05 -0.4zM635.09 728.07l1.59 0.53l-0.84 1.83zM618.1 602.64l1.52 0.7l0.4 2.29l-1.36 -0.4zM636.61 695.33l2.19 0.15l-0.15 1.62l-1.97 -0.4zM613.31 626.93l1.86 -0.18l-0.57 1.36zM663.34 603.49l2.11 0.73l0.43 1.36l-1.89 -0.4zM672.64 707l1.88 0.54l0.24 2.29l-1.69 -0.4zM657.28 729.26l1.93 -0.11l-0.41 1.78l-1.74 -0.4zM637.66 605.93l2.17 0.37l-1.41 2.19zM636.38 684.05l1.38 -0.08l-0.61 1.34zM616.16 698.76l1.93 -0.31l-0.66 1.46zM617.48 730.14l2.46 0.59l-1.68 1.93zM629.74 706.26l1.98 -0.64l-0.94 2.19l-1.78 -0.4zM621.9 675.95l2.44 -0.41l-0.96 1.2zM617.01 727.79l2.28 -0.23l-0.52 1.64zM614.49 728.28l1.67 0.69l0.39 1.75l-1.5 -0.4zM649.81 627.94l1.65 0.63l-1.16 2.21zM625.75 725.56l2.49 0.21l-1.82 1.42zM616 613.38l2.17 0.64l0.34 1.54l-1.95 -0.4zM669.05 617.56l2.14 -0.09l-0.71 2.23zM636.57 701.03l1.54 -0.42l-0.72 1.4l-1.38 -0.4zM664.96 726.24l2.01 -0.32l-0.62 1.45l-1.81 -0.4zM663.19 611.05l2.48 0.05l-0.56 1.68zM632.07 714.47l1.4 0.41l-0.52 1.51zM655.85 625.02l2.38 -0.75l-1.55 2.29zM642.78 732.74l1.9 0.09l-0.21 1.4l-1.71 -0.4zM652.45 720.58l2.12 0.72l-1.42 1.77zM625.21 686.17l1.58 0.44l0.14 1.68l-1.42 -0.4zM651.13 630.08l2 -0.74l-1.26 1.75zM657.81 724.57l1.52 -0.77l-0.7 1.37zM675.88 608.52l2.39 0.07l-0.23 1.83l-2.15 -0.4zM631.04 619.2l1.67 -0.3l-0.6 1.25l-1.51 -0.4zM659.1 610.83l2.28 -0.39l-1.4 1.39zM678.47 712.07l1.37 -0.22l-1.07 1.65zM615.37 668.98l2.21 -0.57l-1.43 2.28zM615.14 632.89l2.37 -0.17l-1.08 1.36zM618.12 602.97l2.5 0.37l-0.88 2.04zM648.92 733.21l1.74 0.77l0.47 1.57l-1.56 -0.4zM615.17 656.44l2.08 -0.25l-0.55 1.26l-1.87 -0.4zM682.91 665.08l1.77 -0.19l-0.49 2.13l-1.59 -0.4zM629.23 648.37l1.52 -0.54l-0.5 1.8zM666.34 723.1l1.55 -0.68l-0.98 1.62l-1.39 -0.4zM613.49 624.4l1.61 0.68l0.38 1.63l-1.45 -0.4zM633.49 650.36l1.48 -0.22l-0.52 2.23l-1.34 -0.4zM669.88 729.53l1.32 -0.18l-0.97 1.55zM638.02 709.75l1.92 -0.17l-0.43 1.26zM624.07 684.33l1.34 -0.12l-0.38 1.54zM623.78 627.7l1.64 -0.15l-1.18 1.98zM630.08 640.35l1.71 -0.73l-0.99 1.44zM657.28 715.27l2.47 0.27l-0.03 1.53l-2.22 -0.4zM629.3 697.94l2.1 0.59l-1.22 2.25zM619.19 660.02l1.77 -0.19l-0.88 1.27zM634.39 621l1.78 -0.53l-0.83 1.72l-1.6 -0.4zM631.18 611.49l1.71 -0.56l-1.06 1.66zM613.84 654.75l1.74 -0.15l-0.86 1.27zM638.04 634.74l1.33 0.63l-0.47 1.58zM665.44 624.97l1.86 0.73l-1.02 1.88zM687.39 709.86l2.05 -0.14l-0.75 1.88zM678.37 725.56l1.76 -0.74l-0.89 2.2zM636.69 650.26l2.47 -0.49l-1.5 1.36zM631.15 669.57l2.08 0.2l-1.45 1.8zM689.51 646.36l1.72 -0.3l-0.6 2.17l-1.54 -0.4zM689.11 717.54l1.49 -0.01l-0.63 1.88zM634.86 706.6l1.94 -0.4l-0.6 1.46zM653.1 616.27l1.38 -0.64l-0.94 1.28l-1.24 -0.4zM621.02 663.48l2.23 -0.54l-0.84 1.73l-2 -0.4zM681.59 605.75l1.6 0.47l-1.01 1.76zM632.15 701.78l1.69 0.41l0.11 1.57l-1.52 -0.4zM661.84 718.5l2.26 -0.2l-0.5 1.34l-2.04 -0.4zM630.48 624.77l1.32 0.71l0.41 1.84l-1.18 -0.4zM622.7 697.7l1.8 -0.17l-0.47 1.89l-1.62 -0.4zM691.1 605.06l2.16 -0.73l-1.38 1.33zM691.49 615.42l1.7 0.07l-0.72 1.23zM636.74 714.07l2.31 -0.17l-0.47 1.51l-2.08 -0.4zM673.23 740.24l1.77 0.07l-0.23 1.96l-1.59 -0.4zM623.75 623.39l1.43 -0.4l-0.39 2.23zM637.89 600.79l1.98 0.2l-0.67 1.36zM632.77 605.43l1.38 -0.31l-0.43 2.18zM628.18 723.75l1.88 0.49l-0.44 1.66zM687.11 723.37l2.49 0.53l0.23 1.69l-2.24 -0.4zM626.07 601.88l1.5 -0.68l-0.98 1.33zM636.8 672.57l1.31 0.73l-0.68 1.43zM676.81 712.88l2.18 0.48l0.18 1.64l-1.96 -0.4zM673.42 740.96l1.42 -0.16l-0.46 2.25l-1.28 -0.4zM632.04 729.9l1.33 -0.44l-0.56 1.83zM664.56 715.56l1.74 -0.23l-1.29 1.9zM637.73 611.65l1.7 -0.46l-0.76 2.02l-1.53 -0.4zM626.18 613.34l1.47 -0.11l-0.74 1.59zM654.97 736.08l1.55 -0.29l-0.59 2.17l-1.39 -0.4zM620.67 741.19l1.82 -0.45l-1.13 2.26zM626.22 637.64l2.11 -0.28l-0.88 2.24zM691.16 619.48l2.06 0.23l-1.17 1.62zM683.01 722.17l2.05 0.11l-1.44 1.76zM653.22 602.67l2.05 0.15l-1.56 1.69zM624.15 665.96l2.49 -0.3l-0.6 2.01l-2.24 -0.4zM691.15 656.3l2.34 0.78l-0.8 1.34zM687.02 718.25l2.26 0.79l-1.63 1.76zM654.91 723.5l1.54 0.23l-0.82 1.51zM631.34 714l2.33 0.08l-0.22 2.05l-2.09 -0.4zM675.74 620.01l1.74 -0.74l-1.25 1.31zM678.71 615.02l1.52 0.56l0.26 1.63l-1.37 -0.4zM684.14 608.42l2.49 0.21l-0.09 1.43l-2.24 -0.4zM670.21 626.57l2.1 -0.78l-0.82 1.67zM626.45 616.56l2.13 -0.59l-1.63 1.71z" class="dot"/>
<path d="M667.33 704.76h0.78v0.78h-0.78zM636.82 657.2h0.67v0.67h-0.67zM687.33 648.22h0.95v0.95h-0.95zM630.8 681.99h0.74v0.74h-0.74zM681.81 639.54h1.03v1.03h-1.03zM686.69 654.21h0.97v0.97h-0.97zM617.14 658.77h0.74v0.74h-0.74zM647.27 736.4h0.75v0.75h-0.75zM631.58 657.67h0.67v0.67h-0.67zM683.63 634.49h0.81v0.81h-0.81zM639.33 716.97h1.03v1.03h-1.03zM619.95 728h0.64v0.64h-0.64zM639.51 728.2h1.07v1.07h-1.07zM613.86 689.78h0.83v0.83h-0.83zM637.28 695.28h0.9v0.9h-0.9zM689.63 739.59h1.1v1.1h-1.1zM643.61 718.16h0.92v0.92h-0.92zM617.32 665.02h0.8v0.8h-0.8zM664.49 629.62h1.09v1.09h-1.09zM628.75 651.64h0.67v0.67h-0.67zM643.57 705.56h0.64v0.64h-0.64zM625.35 692.1h0.91v0.91h-0.91zM676.9 703.98h0.99v0.99h-0.99zM621.58 665.96h0.61v0.61h-0.61zM680.77 734.96h1.05v1.05h-1.05zM613.93 648.91h0.87v0.87h-0.87zM654.69 614.13h0.99v0.99h-0.99zM636.12 671.56h0.66v0.66h-0.66zM657.43 616.81h0.64v0.64h-0.64zM645.11 605.87h0.71v0.71h-0.71zM648.75 721.36h0.65v0.65h-0.65zM680.01 620.45h1.09v1.09h-1.09zM660.98 723.26h1.08v1.08h-1.08zM645.07 599.55h0.68v0.68h-0.68zM677.47 704.49h0.96v0.96h-0.96zM624.52 675.01h0.61v0.61h-0.61zM620.82 641.61h1.08v1.08h-1.08zM663.44 720.91h0.62v0.62h-0.62zM645.29 609.36h0.73v0.73h-0.73zM620.94 731.23h0.76v0.76h-0.76zM682.93 735.23h0.88v0.88h-0.88zM652.08 729.06h0.8v0.8h-0.8zM635.95 705.2h0.73v0.73h-0.73zM615.97 719.17h0.63v0.63h-0.63zM643.98 630.29h0.65v0.65h-0.65zM612.72 656.96h1.08v1.08h-1.08zM612.57 684.04h1.08v1.08h-1.08zM637.21 670.16h0.86v0.86h-0.86zM672.3 605.69h0.65v0.65h-0.65zM632.16 637.17h1v1h-1zM646.04 722.71h0.8v0.8h-0.8zM634.86 696.58h0.64v0.64h-0.64zM690.73 718.57h0.76v0.76h-0.76zM637.39 716.81h0.99v0.99h-0.99zM663.38 606.23h0.98v0.98h-0.98zM615.84 688.58h0.88v0.88h-0.88zM686.19 690.61h0.61v0.61h-0.61zM686.75 707.15h0.89v0.89h-0.89zM612.45 704.85h0.81v0.81h-0.81zM666.37 740.64h1.06v1.06h-1.06zM618 711.3h0.82v0.82h-0.82zM621.44 644.39h0.97v0.97h-0.97zM617.72 614.8h1.02v1.02h-1.02zM621.06 615.17h0.76v0.76h-0.76zM688.31 679.23h1.06v1.06h-1.06zM628.89 658.15h0.87v0.87h-0.87zM679.14 615.89h1.04v1.04h-1.04zM649.79 602.55h0.82v0.82h-0.82zM686.25 669.58h0.94v0.94h-0.94zM643.04 710.9h0.65v0.65h-0.65zM671.39 622.14h0.89v0.89h-0.89zM628.17 648.21h0.68v0.68h-0.68zM657.94 720.13h0.78v0.78h-0.78zM690.45 645.56h0.95v0.95h-0.95zM630.69 635.88h0.97v0.97h-0.97zM617.13 717.6h0.79v0.79h-0.79zM690.06 729.9h0.83v0.83h-0.83zM672.25 612.83h0.75v0.75h-0.75zM679.79 603.09h0.95v0.95h-0.95zM638.64 619.98h1.08v1.08h-1.08zM673.18 714.83h0.65v0.65h-0.65zM674.73 629.68h0.7v0.7h-0.7zM621.66 708.91h0.89v0.89h-0.89zM683.95 731.97h0.94v0.94h-0.94zM641.12 735.9h0.96v0.96h-0.96zM635.27 722.35h0.96v0.96h-0.96zM633.18 634.13h0.61v0.61h-0.61zM635.44 634.67h0.67v0.67h-0.67zM634.8 638.25h0.85v0.85h-0.85zM681.91 621.22h1.03v1.03h-1.03zM655.5 704.42h0.87v0.87h-0.87zM664.8 731.29h0.99v0.99h-0.99zM632.79 605.88h1.07v1.07h-1.07zM641.01 712.16h0.72v0.72h-0.72zM670.34 734.83h0.85v0.85h-0.85zM630.57 735.73h0.66v0.66h-0.66zM687.24 693.29h0.64v0.64h-0.64zM684.14 612.79h0.88v0.88h-0.88zM621.58 741.38h0.75v0.75h-0.75zM681.77 606.91h0.93v0.93h-0.93zM617.43 602.3h0.89v0.89h-0.89zM690.62 697.34h1.03v1.03h-1.03zM618.18 674.41h0.69v0.69h-0.69zM651.92 626.64h0.95v0.95h-0.95zM618.3 668.61h0.88v0.88h-0.88zM689.8 679.41h0.67v0.67h-0.67zM636.02 646.67h0.95v0.95h-0.95zM687.11 739.52h1.07v1.07h-1.07zM686.03 722.5h1.07v1.07h-1.07zM613.61 669.01h0.9v0.9h-0.9zM661.05 733.32h0.64v0.64h-0.64zM653.54 737.12h0.62v0.62h-0.62zM620.94 724.01h1.08v1.08h-1.08zM613.93 602.63h1.01v1.01h-1.01zM658.41 707.82h1v1h-1zM612.05 607.85h1v1h-1zM690.03 718.84h0.8v0.8h-0.8zM638.84 648.28h0.61v0.61h-0.61zM638.83 695.86h0.83v0.83h-0.83zM630.75 725.87h0.69v0.69h-0.69zM624 634.75h0.84v0.84h-0.84zM631.06 692.88h0.73v0.73h-0.73zM682.16 624.76h0.72v0.72h-0.72zM636.12 645.79h0.96v0.96h-0.96zM665.93 712.6h0.87v0.87h-0.87zM618.29 708.7h0.72v0.72h-0.72zM629.43 658.08h1.09v1.09h-1.09zM684.88 741.62h0.79v0.79h-0.79zM622.84 712.49h0.99v0.99h-0.99zM639.05 712.61h0.79v0.79h-0.79zM634.97 684.03h0.97v0.97h-0.97zM650.07 716.66h0.61v0.61h-0.61zM617.21 730.61h0.67v0.67h-0.67zM628.45 725.33h1.08v1.08h-1.08zM686.52 647.58h1.07v1.07h-1.07zM623.34 701.61h1.07v1.07h-1.07zM627.41 617.68h0.94v0.94h-0.94zM682.6 703.34h1.07v1.07h-1.07zM621.61 637.59h1.07v1.07h-1.07zM617.73 624.8h0.77v0.77h-0.77zM615.94 642.51h0.69v0.69h-0.69zM621.82 674.4h0.87v0.87h-0.87zM657.42 708.53h0.86v0.86h-0.86zM687.77 609.82h0.71v0.71h-0.71zM618.14 642.86h0.98v0.98h-0.98zM685.94 671.05h0.68v0.68h-0.68zM638.43 680.42h0.75v0.75h-0.75zM675.42 739.02h0.83v0.83h-0.83zM660.25 720.67h0.83v0.83h-0.83zM627.26 734.89h1.09v1.09h-1.09zM613.95 708.59h0.8v0.8h-0.8zM616.15 621.61h0.69v0.69h-0.69zM670.91 628.68h0.61v0.61h-0.61zM629.58 713.88h0.85v0.85h-0.85zM626.61 600.2h0.75v0.75h-0.75zM615.32 635.78h0.91v0.91h-0.91zM640.53 726.16h0.89v0.89h-0.89zM685.1 631.83h1.07v1.07h-1.07zM680.24 725.89h0.68v0.68h-0.68zM652.71 740.76h0.74v0.74h-0.74zM625.68 702.89h0.72v0.72h-0.72zM658.69 620.85h1.07v1.07h-1.07zM634.72 612.06h0.94v0.94h-0.94zM651.78 731.77h0.86v0.86h-0.86zM648.98 611.04h0.85v0.85h-0.85zM689.61 638.62h0.82v0.82h-0.82zM618.77 713.99h0.72v0.72h-0.72zM678.32 713.7h0.73v0.73h-0.73zM684.23 671.07h0.81v0.81h-0.81zM656.41 735.15h0.84v0.84h-0.84zM639.4 626.49h0.71v0.71h-0.71zM678.73 714.51h1.09v1.09h-1.09zM685.37 697.34h1v1h-1zM668.93 715.39h1v1h-1zM626.1 716.14h0.75v0.75h-0.75zM631.53 731.33h0.61v0.61h-0.61zM684.88 733.21h0.92v0.92h-0.92zM617.16 694.75h0.65v0.65h-0.65zM690.57 724.35h0.76v0.76h-0.76zM626.87 698.66h0.98v0.98h-0.98zM690.8 688.32h0.66v0.66h-0.66zM670.14 606.49h1.03v1.03h-1.03zM673.49 711.88h1.04v1.04h-1.04zM657.53 734.8h0.92v0.92h-0.92zM640.27 601.32h0.68v0.68h-0.68zM664.29 710.41h0.95v0.95h-0.95zM633.83 625.16h0.92v0.92h-0.92zM666.9 734.62h0.77v0.77h-0.77zM686.17 730.17h0.75v0.75h-0.75zM688.16 687.81h1.08v1.08h-1.08zM634.34 673.77h0.84v0.84h-0.84zM614.83 723.06h0.87v0.87h-0.87zM649.84 705.97h0.72v0.72h-0.72zM627.94 682.21h0.72v0.72h-0.72zM638.2 608.15h0.63v0.63h-0.63zM687.91 690.74h0.81v0.81h-0.81zM649.91 737.06h0.66v0.66h-0.66zM663.29 734.06h1.05v1.05h-1.05zM632.09 676.47h1.1v1.1h-1.1zM654.22 625.46h0.98v0.98h-0.98zM616.56 619.8h0.88v0.88h-0.88zM633.81 702.35h0.96v0.96h-0.96zM637.54 709.21h0.92v0.92h-0.92zM646.6 613.45h0.84v0.84h-0.84zM688.37 726.82h0.63v0.63h-0.63zM617.68 637.07h0.95v0.95h-0.95zM647.01 616.54h0.81v0.81h-0.81zM657.85 705.92h0.8v0.8h-0.8zM661.25 604.73h0.96v0.96h-0.96zM622.29 605.94h0.84v0.84h-0.84zM613.35 608.57h0.8v0.8h-0.8zM649.48 613.31h1.08v1.08h-1.08zM690.69 615.39h0.75v0.75h-0.75zM629.68 723.52h0.85v0.85h-0.85zM682.96 635.33h1v1h-1zM636.3 710.05h0.83v0.83h-0.83zM649.88 725.54h0.83v0.83h-0.83zM642.08 728.21h1.09v1.09h-1.09zM665.69 705.44h0.75v0.75h-0.75zM669.92 735.72h0.93v0.93h-0.93zM664.27 630.77h0.99v0.99h-0.99zM655.13 740.09h0.77v0.77h-0.77zM668.93 600.43h0.81v0.81h-0.81zM661.08 630.03h0.8v0.8h-0.8zM691.49 626.51h1.06v1.06h-1.06zM616.78 682.53h1.01v1.01h-1.01zM672.94 706.26h0.89v0.89h-0.89zM632.13 700.26h0.88v0.88h-0.88zM655.54 741.13h0.67v0.67h-0.67zM670.13 735.8h0.74v0.74h-0.74zM651.62 622.22h0.91v0.91h-0.91zM683.48 694.17h0.74v0.74h-0.74zM623.62 685.85h0.83v0.83h-0.83zM654.39 741.72h0.88v0.88h-0.88zM688.28 649.13h0.98v0.98h-0.98zM618.03 641.56h0.95v0.95h-0.95zM667.22 718.12h0.79v0.79h-0.79zM633.89 649.97h0.87v0.87h-0.87zM613.93 652.31h0.93v0.93h-0.93zM623.89 643.11h1.04v1.04h-1.04zM686.68 634.21h0.69v0.69h-0.69zM621.42 610.43h1v1h-1zM614.25 716.74h1.03v1.03h-1.03zM628.9 700h0.95v0.95h-0.95zM638.96 725.37h0.71v0.71h-0.71zM647.35 715.78h0.88v0.88h-0.88zM660.74 741.12h0.71v0.71h-0.71zM629.82 687.86h0.68v0.68h-0.68zM689.14 647.48h0.82v0.82h-0.82zM646.49 718.01h1.06v1.06h-1.06zM666.16 622.85h0.78v0.78h-0.78zM668.51 629.33h1.04v1.04h-1.04zM681.78 630.84h0.78v0.78h-0.78zM630.3 702.19h0.62v0.62h-0.62zM667.66 607.08h1.02v1.02h-1.02zM619.62 604.42h0.78v0.78h-0.78zM690.78 685.02h1.03v1.03h-1.03zM617.01 612.77h0.61v0.61h-0.61zM667.76 623.58h0.74v0.74h-0.74zM637.79 665.78h0.74v0.74h-0.74zM635.37 635.84h0.61v0.61h-0.61zM636.83 683.84h0.73v0.73h-0.73zM621.04 720.67h0.83v0.83h-0.83zM682.97 707.34h0.91v0.91h-0.91zM654.64 712.34h1.05v1.05h-1.05zM629.92 601.22h0.75v0.75h-0.75zM614.55 713.47h0.91v0.91h-0.91zM634.84 625.73h1.03v1.03h-1.03zM667.34 705.96h0.83v0.83h-0.83zM682.44 741.75h1.06v1.06h-1.06zM678.84 608.79h0.72v0.72h-0.72zM689.68 676.81h0.86v0.86h-0.86zM636.79 722.99h0.86v0.86h-0.86zM691.23 608.95h1.1v1.1h-1.1zM613.07 619.5h0.79v0.79h-0.79zM663.16 614.04h0.88v0.88h-0.88zM687.15 661.15h0.98v0.98h-0.98zM625.86 665.28h1.05v1.05h-1.05zM665.93 629.43h0.82v0.82h-0.82zM613.43 629.9h0.93v0.93h-0.93zM629.15 608.55h0.98v0.98h-0.98zM638.71 736.88h0.88v0.88h-0.88zM620.1 690.34h0.73v0.73h-0.73zM677.15 703h0.98v0.98h-0.98zM616.58 602.96h1v1h-1zM623.24 627.26h0.61v0.61h-0.61zM625.08 666.67h1.08v1.08h-1.08zM637.7 635.6h1.01v1.01h-1.01zM626.75 690.09h0.91v0.91h-0.91zM686.83 604.34h0.88v0.88h-0.88zM642.63 717.43h0.73v0.73h-0.73zM669.2 624.86h0.85v0.85h-0.85zM689.47 632.79h0.74v0.74h-0.74zM685.4 695.8h0.63v0.63h-0.63zM626.92 632.39h0.74v0.74h-0.74zM690.38 695.1h0.91v0.91h-0.91zM642.65 702.02h0.85v0.85h-0.85zM616.71 669.34h0.79v0.79h-0.79zM654.48 605.07h0.61v0.61h-0.61zM690.63 651.83h0.77v0.77h-0.77zM623.87 683.91h1.06v1.06h-1.06zM626.43 670.53h0.85v0.85h-0.85zM631.11 625.5h0.96v0.96h-0.96zM618.25 723.38h0.62v0.62h-0.62zM627.16 665.83h1.02v1.02h-1.02zM661.57 706.14h0.98v0.98h-0.98zM669.79 605.49h1.01v1.01h-1.01zM623.82 621.54h0.62v0.62h-0.62zM614.27 725.16h0.79v0.79h-0.79zM618.92 604.77h1.02v1.02h-1.02zM660.13 730.87h0.62v0.62h-0.62zM621 639.57h0.7v0.7h-0.7zM620.97 627.08h0.92v0.92h-0.92zM625.45 622.45h0.87v0.87h-0.87zM642.04 619.69h0.88v0.88h-0.88zM649.94 603.76h0.91v0.91h-0.91zM627.47 646.69h0.6v0.6h-0.6zM683.02 683.21h0.8v0.8h-0.8zM655.35 734.28h0.67v0.67h-0.67zM684.66 603.93h0.74v0.74h-0.74zM635.43 706.78h0.99v0.99h-0.99zM667.96 732.09h0.69v0.69h-0.69zM643.47 721.67h0.98v0.98h-0.98zM621.01 740.06h0.97v0.97h-0.97zM660.44 737.02h1.05v1.05h-1.05zM658.17 727.05h1.1v1.1h-1.1zM688.83 618.84h0.8v0.8h-0.8zM657.13 617.08h0.99v0.99h-0.99zM616.97 689.17h0.74v0.74h-0.74zM637.83 685.99h0.7v0.7h-0.7zM647.8 722.3h1.09v1.09h-1.09zM633 651.01h0.95v0.95h-0.95zM627.18 721.12h0.7v0.7h-0.7zM612.16 645.59h0.74v0.74h-0.74zM691.31 690.46h0.63v0.63h-0.63zM650.52 702.78h1.03v1.03h-1.03zM686.82 659.04h0.76v0.76h-0.76zM666.84 620.04h0.99v0.99h-0.99zM689.34 627.44h0.91v0.91h-0.91zM624.97 603.12h0.81v0.81h-0.81zM626.66 703.95h0.89v0.89h-0.89zM665.96 738.36h0.63v0.63h-0.63zM619.87 603.19h0.83v0.83h-0.83zM655.83 722.14h0.79v0.79h-0.79zM621.04 691.03h0.61v0.61h-0.61zM630.35 602.32h0.68v0.68h-0.68zM617.11 675.07h0.66v0.66h-0.66zM660.27 717.51h0.77v0.77h-0.77zM621.63 695.33h0.96v0.96h-0.96zM682.72 678.35h0.89v0.89h-0.89zM689.99 639.61h0.99v0.99h-0.99zM612.86 667.08h0.73v0.73h-0.73zM652.83 606.52h0.67v0.67h-0.67zM691.24 712.95h0.75v0.75h-0.75zM685.65 668.17h0.8v0.8h-0.8zM691.97 604.72h0.8v0.8h-0.8zM618.35 696.3h0.68v0.68h-0.68zM623.93 659.39h0.9v0.9h-0.9zM635.61 651.34h1.04v1.04h-1.04zM629.06 599.65h1.04v1.04h-1.04zM650.64 617.18h0.67v0.67h-0.67zM683.23 706.62h0.63v0.63h-0.63zM666.01 629.01h0.82v0.82h-0.82zM660.4 605.38h1.07v1.07h-1.07zM638.82 618.87h0.99v0.99h-0.99zM620.73 603.39h0.93v0.93h-0.93zM649.61 728.59h1v1h-1zM628.52 604.55h0.9v0.9h-0.9zM685.35 628.23h0.92v0.92h-0.92zM617.88 731.92h1.07v1.07h-1.07zM669.92 729.01h1v1h-1zM615.26 671.09h0.67v0.67h-0.67zM655.71 735.76h1.03v1.03h-1.03zM631.9 678.03h0.76v0.76h-0.76zM625.48 705.84h0.98v0.98h-0.98zM638.94 658.93h0.95v0.95h-0.95zM621.46 611.87h0.68v0.68h-0.68zM641.51 623.52h1.09v1.09h-1.09zM660.44 616.65h0.95v0.95h-0.95zM682.12 738.6h0.8v0.8h-0.8zM640.16 720.78h1v1h-1zM666.1 720.33h0.79v0.79h-0.79zM637.23 612.59h1v1h-1zM685.7 641.89h0.79v0.79h-0.79zM621.36 618.62h0.92v0.92h-0.92zM683.36 610.17h0.73v0.73h-0.73zM672.73 630.75h1.04v1.04h-1.04zM628.13 640.16h0.81v0.81h-0.81zM634.26 703.72h0.62v0.62h-0.62zM663.1 714.37h0.76v0.76h-0.76zM627.32 615.39h0.64v0.64h-0.64zM613.21 663.73h0.9v0.9h-0.9zM637.55 603.05h0.81v0.81h-0.81zM640.29 738.98h0.78v0.78h-0.78zM685.8 723.87h0.89v0.89h-0.89zM622.08 715.13h0.65v0.65h-0.65zM656.58 612.1h0.65v0.65h-0.65zM644.84 620.66h1.1v1.1h-1.1zM658.24 728.09h1.08v1.08h-1.08zM649.84 710.77h0.93v0.93h-0.93zM624.64 674.86h0.81v0.81h-0.81zM675.11 717.66h0.65v0.65h-0.65zM623.61 604.84h0.68v0.68h-0.68zM688.72 642.89h0.82v0.82h-0.82zM634.36 710.91h0.77v0.77h-0.77zM679.65 714.51h0.6v0.6h-0.6zM655.82 611.5h1.04v1.04h-1.04zM617.55 636.75h0.98v0.98h-0.98zM628.26 665.04h0.73v0.73h-0.73zM666.04 613.48h0.67v0.67h-0.67zM627.8 675.27h0.89v0.89h-0.89zM612.24 741.14h1.02v1.02h-1.02zM642.39 621.03h1.01v1.01h-1.01zM690.16 623.83h0.98v0.98h-0.98zM677.44 733.9h0.7v0.7h-0.7zM621.64 621.86h0.72v0.72h-0.72zM684 729.94h0.84v0.84h-0.84zM622.2 649.12h0.72v0.72h-0.72zM663.87 702.4h0.99v0.99h-0.99zM657.35 619.03h0.62v0.62h-0.62zM614.6 609.53h0.81v0.81h-0.81zM687.38 719.44h0.62v0.62h-0.62zM637.34 651.46h0.76v0.76h-0.76zM622.97 683.6h1.02v1.02h-1.02zM642.54 623.57h0.65v0.65h-0.65zM613.21 708.97h0.72v0.72h-0.72zM669.92 712.66h0.64v0.64h-0.64zM627.12 643.73h0.98v0.98h-0.98zM649.74 713.07h0.73v0.73h-0.73zM676.84 731.4h0.9v0.9h-0.9zM688.73 734.01h0.69v0.69h-0.69zM691.32 627.08h1v1h-1zM621.7 641.89h0.82v0.82h-0.82zM628.31 728.19h1.03v1.03h-1.03zM652.79 605.34h0.74v0.74h-0.74zM635.4 658.72h1.07v1.07h-1.07zM659.61 716.84h0.64v0.64h-0.64zM631.64 704.03h0.77v0.77h-0.77zM630.2 607.14h0.63v0.63h-0.63zM635.27 600.44h0.94v0.94h-0.94zM638.86 669.26h0.79v0.79h-0.79zM633.6 605.51h0.75v0.75h-0.75zM635.84 614.66h0.61v0.61h-0.61zM650.45 600.84h1.04v1.04h-1.04zM654.05 601.49h0.65v0.65h-0.65zM675.39 719.17h1.05v1.05h-1.05zM677.53 722.42h0.63v0.63h-0.63zM659.87 729.7h0.62v0.62h-0.62zM687.87 621.87h0.88v0.88h-0.88zM623.55 707.31h0.84v0.84h-0.84zM629.97 704.34h1.04v1.04h-1.04zM618.48 700.85h0.97v0.97h-0.97zM616.85 733.55h0.86v0.86h-0.86zM614.68 667.53h0.77v0.77h-0.77zM620.35 726.37h1.07v1.07h-1.07zM621.93 662.62h0.74v0.74h-0.74zM665.78 613.92h0.77v0.77h-0.77zM687.22 733.07h1.05v1.05h-1.05zM631.56 664.66h0.92v0.92h-0.92zM691.34 643.29h0.61v0.61h-0.61zM619.26 628.37h0.97v0.97h-0.97zM679.26 604.05h0.72v0.72h-0.72zM631.39 712.05h1.05v1.05h-1.05zM633.07 612.85h1.08v1.08h-1.08zM689.72 701.91h0.84v0.84h-0.84zM671.74 709.27h0.85v0.85h-0.85zM633.7 674.15h0.93v0.93h-0.93zM637.94 690.7h0.67v0.67h-0.67zM689.67 628.65h0.71v0.71h-0.71zM688.82 735.76h1.06v1.06h-1.06zM679.29 721.04h1.01v1.01h-1.01zM657.33 608.77h0.97v0.97h-0.97zM678.86 719.48h0.62v0.62h-0.62zM616.9 703.94h0.84v0.84h-0.84zM683.49 741.65h0.82v0.82h-0.82zM663.16 607.83h1.05v1.05h-1.05zM669.88 714.38h0.83v0.83h-0.83zM628.41 663.42h0.94v0.94h-0.94zM655.85 613.75h0.6v0.6h-0.6zM630.14 630.11h0.81v0.81h-0.81zM667.61 730.39h0.94v0.94h-0.94zM613.66 723.8h0.9v0.9h-0.9zM617.71 694.29h0.63v0.63h-0.63zM666.49 730.11h0.93v0.93h-0.93zM660.5 715.17h1.08v1.08h-1.08zM677.01 741.56h0.83v0.83h-0.83zM613.17 687.08h0.92v0.92h-0.92zM690.83 684.05h1.03v1.03h-1.03zM673.78 741.67h0.83v0.83h-0.83zM683.78 655.53h0.61v0.61h-0.61zM638.07 648.94h1.1v1.1h-1.1zM667.26 612.11h0.75v0.75h-0.75zM643.6 616.03h0.9v0.9h-0.9zM645.84 714.3h0.77v0.77h-0.77zM690.18 626.37h0.87v0.87h-0.87zM630.1 600.07h0.75v0.75h-0.75zM683.64 640.27h0.84v0.84h-0.84zM654.79 607.48h0.77v0.77h-0.77zM634.77 716.24h0.99v0.99h-0.99zM681.32 705.45h0.63v0.63h-0.63zM622.43 706.44h1.02v1.02h-1.02zM691.15 710.41h0.68v0.68h-0.68zM660.37 617.5h1.08v1.08h-1.08zM690.48 653.79h0.63v0.63h-0.63zM629.45 641.87h0.9v0.9h-0.9zM637.59 694.37h1.05v1.05h-1.05zM691.27 726.9h1.06v1.06h-1.06zM632.25 717.48h0.64v0.64h-0.64zM658.54 608.96h0.65v0.65h-0.65zM687.9 616.39h0.96v0.96h-0.96zM675.45 606.81h1.04v1.04h-1.04zM647.7 602.04h0.95v0.95h-0.95zM615.13 674.28h1.06v1.06h-1.06zM666.25 614.9h0.96v0.96h-0.96zM634.05 639.64h1.04v1.04h-1.04zM639.96 709.83h0.78v0.78h-0.78zM689.08 706.98h1.09v1.09h-1.09zM659.12 607.05h0.68v0.68h-0.68zM615.94 686.78h0.91v0.91h-0.91zM688.44 640.92h0.72v0.72h-0.72zM629.7 619.34h0.61v0.61h-0.61zM641.44 735.92h0.76v0.76h-0.76zM620.23 602.29h0.9v0.9h-0.9zM681.94 605.29h0.95v0.95h-0.95zM630.6 697.64h1.02v1.02h-1.02zM624.48 738.24h1.06v1.06h-1.06zM685.87 676.46h0.63v0.63h-0.63zM641.5 729.95h0.63v0.63h-0.63zM635.62 604.13h1.04v1.04h-1.04zM640.29 609.93h0.78v0.78h-0.78zM628.3 660.84h0.91v0.91h-0.91zM664.64 611.99h0.87v0.87h-0.87zM616.49 662.02h1v1h-1zM633 717.26h0.72v0.72h-0.72zM643.46 712.9h0.6v0.6h-0.6zM669.18 735.45h0.95v0.95h-0.95zM629.88 626.86h0.84v0.84h-0.84zM634.51 678.22h0.64v0.64h-0.64zM616 615.49h1.07v1.07h-1.07zM679.93 725.77h0.79v0.79h-0.79zM690.75 622.66h0.96v0.96h-0.96zM687.35 628.25h0.6v0.6h-0.6zM622.11 610.12h1v1h-1zM621.16 691.16h0.67v0.67h-0.67zM622.69 684.11h0.92v0.92h-0.92zM676.07 717.87h0.67v0.67h-0.67zM636.32 618.87h0.85v0.85h-0.85zM614.27 723.81h0.94v0.94h-0.94zM684.97 719.06h1.01v1.01h-1.01zM676.47 629.32h0.77v0.77h-0.77zM616.5 708.83h0.84v0.84h-0.84zM690.91 639.98h0.82v0.82h-0.82zM681.31 738.49h0.98v0.98h-0.98zM682.6 731.93h0.74v0.74h-0.74zM661.34 607.22h0.94v0.94h-0.94zM688.2 671.34h0.67v0.67h-0.67zM657.54 607.49h0.83v0.83h-0.83zM618.41 658.53h1.01v1.01h-1.01zM671.15 721.76h0.83v0.83h-0.83zM647.29 605.98h0.99v0.99h-0.99zM623.61 664.49h0.63v0.63h-0.63zM621.6 609.5h0.81v0.81h-0.81zM622.98 717.96h0.9v0.9h-0.9zM624.77 638.07h1.02v1.02h-1.02zM662.6 604.97h0.7v0.7h-0.7zM646.52 720.41h1.07v1.07h-1.07zM615.72 679.03h0.8v0.8h-0.8zM686.46 627.95h0.7v0.7h-0.7zM613.27 602.16h1v1h-1zM681.7 620.3h0.61v0.61h-0.61zM661.16 730.21h0.97v0.97h-0.97zM634.4 685.96h0.74v0.74h-0.74zM681.55 696.36h1.05v1.05h-1.05zM639.66 736.35h0.89v0.89h-0.89zM632.58 691.79h0.76v0.76h-0.76zM621.07 603.75h0.91v0.91h-0.91zM631.35 612.51h0.99v0.99h-0.99zM623.36 707.45h0.74v0.74h-0.74zM641.07 733.22h1.01v1.01h-1.01zM678.77 740.15h0.9v0.9h-0.9zM686.82 688.26h0.89v0.89h-0.89zM637.91 652.99h0.88v0.88h-0.88zM631.77 691.09h1.03v1.03h-1.03zM669.63 630.64h0.61v0.61h-0.61zM630.88 615.91h0.82v0.82h-0.82zM682.93 735.27h0.75v0.75h-0.75zM648.32 623.84h0.99v0.99h-0.99zM618.82 631.05h0.74v0.74h-0.74zM628.25 626.04h0.64v0.64h-0.64zM653.88 622.94h0.92v0.92h-0.92zM635.65 665.28h0.94v0.94h-0.94zM629.23 704.33h0.89v0.89h-0.89zM689.98 687.36h0.87v0.87h-0.87zM670.76 702.29h0.69v0.69h-0.69zM688.32 740.4h0.85v0.85h-0.85zM691.64 688.08h0.79v0.79h-0.79zM618.96 600.52h0.9v0.9h-0.9zM619.24 695.87h0.95v0.95h-0.95zM646.23 738.64h0.84v0.84h-0.84zM625.31 672.15h0.78v0.78h-0.78zM625.24 726.84h0.69v0.69h-0.69zM668.98 622.66h0.86v0.86h-0.86zM691.74 610.87h1.03v1.03h-1.03zM612.48 739.73h1.05v1.05h-1.05zM648.79 621.74h0.78v0.78h-0.78zM647.29 724.12h0.66v0.66h-0.66zM656.23 712.89h0.9v0.9h-0.9zM637.87 736.43h0.9v0.9h-0.9zM633.7 677.38h1.03v1.03h-1.03zM615.71 691.95h0.84v0.84h-0.84zM635.04 621.11h0.72v0.72h-0.72zM675.65 714.64h0.72v0.72h-0.72zM690.15 677.23h0.77v0.77h-0.77zM632.37 701.35h0.82v0.82h-0.82zM681.61 661.58h0.8v0.8h-0.8zM688 705.71h0.65v0.65h-0.65zM691.03 600.25h0.63v0.63h-0.63zM614.35 623.52h0.85v0.85h-0.85zM679.5 600.87h0.68v0.68h-0.68zM613.02 605.76h0.76v0.76h-0.76zM651.28 738.46h0.92v0.92h-0.92zM684.83 695.62h0.72v0.72h-0.72zM620.79 732h0.84v0.84h-0.84zM628.02 669.28h1v1h-1zM633.87 683.2h0.65v0.65h-0.65zM631.31 625.17h0.85v0.85h-0.85zM667.01 630.97h0.94v0.94h-0.94zM658.88 706.87h1.1v1.1h-1.1zM626.21 610.31h0.92v0.92h-0.92zM620.24 603.04h0.64v0.64h-0.64zM655.4 626.41h0.73v0.73h-0.73zM623.78 696.52h1.1v1.1h-1.1zM679.06 711.92h0.72v0.72h-0.72zM674.41 613.04h0.66v0.66h-0.66zM652.6 624.76h0.88v0.88h-0.88zM634.72 734.8h0.82v0.82h-0.82zM677.25 735h0.83v0.83h-0.83zM643.95 616.02h0.93v0.93h-0.93zM685.74 697.73h0.76v0.76h-0.76zM643.3 710.05h0.6v0.6h-0.6zM623.77 704.16h0.73v0.73h-0.73zM620.4 669.35h0.73v0.73h-0.73zM635.83 735.47h0.84v0.84h-0.84zM671.11 620.62h0.91v0.91h-0.91zM621.46 630.13h0.66v0.66h-0.66zM613.98 729.57h1.08v1.08h-1.08zM641.43 599.84h0.97v0.97h-0.97zM665.03 604.6h0.98v0.98h-0.98zM617.4 631.8h0.99v0.99h-0.99zM652.66 714.06h0.9v0.9h-0.9zM654.02 624.81h0.63v0.63h-0.63zM627.03 674.04h0.9v0.9h-0.9zM644.88 720.09h0.87v0.87h-0.87zM682.43 740.96h1.01v1.01h-1.01zM620.19 693.85h0.72v0.72h-0.72zM631.16 642.03h0.95v0.95h-0.95zM682.86 644.23h0.76v0.76h-0.76zM662.59 707.61h0.98v0.98h-0.98zM676.72 703.19h1.09v1.09h-1.09zM641.13 599.53h0.74v0.74h-0.74zM650.09 735.93h0.67v0.67h-0.67zM684.23 739.04h1v1h-1zM634.36 600.78h1.04v1.04h-1.04zM617.47 641.25h1.07v1.07h-1.07zM665.89 717.44h1.02v1.02h-1.02zM626.26 671.14h0.65v0.65h-0.65zM665.31 618.45h0.73v0.73h-0.73zM616.69 682.22h0.89v0.89h-0.89zM686.95 702.76h0.88v0.88h-0.88zM681.88 624.06h0.75v0.75h-0.75zM688.43 696.48h0.62v0.62h-0.62zM687.54 665.77h0.7v0.7h-0.7zM632.44 666.22h0.83v0.83h-0.83zM623.94 634.69h0.66v0.66h-0.66zM614.17 674.17h0.97v0.97h-0.97zM644.21 728.82h0.9v0.9h-0.9zM683.91 648.45h1.02v1.02h-1.02zM631.53 736.03h0.94v0.94h-0.94zM626.27 704.08h0.68v0.68h-0.68zM638.78 650.47h0.68v0.68h-0.68zM644.01 611.55h1v1h-1zM646.23 739.31h1.04v1.04h-1.04zM668.44 719.94h1.06v1.06h-1.06zM686.43 657.9h0.9v0.9h-0.9zM617.53 650.84h0.76v0.76h-0.76zM672.33 608.79h0.81v0.81h-0.81zM650.8 720.08h0.92v0.92h-0.92zM623.81 694.63h0.72v0.72h-0.72zM688.47 663.11h0.74v0.74h-0.74zM636.81 736.85h0.77v0.77h-0.77zM631.43 675.58h0.94v0.94h-0.94zM687.25 609.56h0.76v0.76h-0.76zM619.39 605.29h0.69v0.69h-0.69zM636.32 624.42h0.74v0.74h-0.74zM621.14 601.79h0.86v0.86h-0.86zM672.63 621.13h0.65v0.65h-0.65zM670.26 609.51h0.67v0.67h-0.67zM614.22 717.02h0.79v0.79h-0.79zM678.16 613.36h0.82v0.82h-0.82zM655.17 620.43h0.64v0.64h-0.64zM686.84 734.08h1.1v1.1h-1.1zM655.55 704.26h0.9v0.9h-0.9zM650.2 622.91h0.92v0.92h-0.92zM615.36 640.63h0.66v0.66h-0.66zM634.9 711.31h0.86v0.86h-0.86zM635.24 654.9h0.6v0.6h-0.6zM616.84 603.33h1.08v1.08h-1.08zM682.27 676.92h1.07v1.07h-1.07zM620.38 661.26h0.91v0.91h-0.91zM639.47 692.95h0.7v0.7h-0.7zM654.09 605.98h0.72v0.72h-0.72zM669.25 622.08h0.84v0.84h-0.84zM691.56 686.41h0.97v0.97h-0.97zM673.67 738.41h0.79v0.79h-0.79zM643.65 707.45h0.61v0.61h-0.61zM656.54 704.23h1.03v1.03h-1.03zM618.33 693.65h1.06v1.06h-1.06zM626.32 626.61h1v1h-1zM653.26 603.58h0.91v0.91h-0.91zM626.42 736.02h0.69v0.69h-0.69zM625.27 636.7h0.69v0.69h-0.69zM625.41 603.97h0.92v0.92h-0.92zM688.14 659.38h0.83v0.83h-0.83zM686.19 692.12h0.83v0.83h-0.83zM671.76 705.35h0.75v0.75h-0.75zM617.58 704.16h0.97v0.97h-0.97zM660.03 614.97h0.97v0.97h-0.97zM626.03 713.67h0.91v0.91h-0.91zM662.93 608.88h0.78v0.78h-0.78zM670.63 614.13h0.62v0.62h-0.62zM645.06 721.63h0.91v0.91h-0.91zM630.4 609.85h1.02v1.02h-1.02zM628.55 706.86h0.6v0.6h-0.6zM625.79 644.41h1.08v1.08h-1.08zM614.85 621.32h0.97v0.97h-0.97zM618.1 721.81h1.09v1.09h-1.09zM684.69 680.08h0.64v0.64h-0.64zM678.52 708.12h0.85v0.85h-0.85zM690.13 664.96h0.82v0.82h-0.82zM662.98 712.29h0.89v0.89h-0.89zM687.28 637.38h1.05v1.05h-1.05zM682.26 648.2h0.61v0.61h-0.61zM688.78 678.93h0.96v0.96h-0.96zM672.76 622.44h0.93v0.93h-0.93zM647.07 629.35h0.74v0.74h-0.74zM641.02 704.53h0.88v0.88h-0.88zM637.65 606.01h0.99v0.99h-0.99zM672.31 719.27h0.99v0.99h-0.99zM617.06 638.77h0.83v0.83h-0.83zM635.76 717.46h0.7v0.7h-0.7zM613.16 663.42h0.63v0.63h-0.63zM614.29 685.89h0.9v0.9h-0.9zM655.38 608.2h0.88v0.88h-0.88zM629.85 620.6h0.84v0.84h-0.84zM671.65 627.59h0.9v0.9h-0.9zM670.9 713.91h0.87v0.87h-0.87zM684.96 741h1v1h-1zM662.12 616.61h0.69v0.69h-0.69zM619.56 692.38h0.79v0.79h-0.79zM685.72 714.94h0.87v0.87h-0.87zM639.25 644.47h0.63v0.63h-0.63zM620.87 724.42h0.75v0.75h-0.75zM612.66 740.12h0.79v0.79h-0.79zM689.47 609.66h0.84v0.84h-0.84zM663.78 601.55h1.06v1.06h-1.06zM639.07 696.29h0.64v0.64h-0.64zM618.28 610.54h0.99v0.99h-0.99zM687.37 730.82h0.87v0.87h-0.87zM619.3 710.7h0.85v0.85h-0.85zM657.3 622.79h0.67v0.67h-0.67zM618.53 660.67h0.74v0.74h-0.74zM688.34 605.08h0.98v0.98h-0.98zM621.59 612.97h1.06v1.06h-1.06zM629.57 684.27h0.89v0.89h-0.89zM623.24 698.87h0.79v0.79h-0.79zM660.07 716.72h0.64v0.64h-0.64zM686.57 688.05h0.7v0.7h-0.7zM648.68 600.11h0.86v0.86h-0.86zM617.58 618.01h0.85v0.85h-0.85zM655.04 628.86h0.89v0.89h-0.89zM636.92 699.89h0.63v0.63h-0.63zM625.83 640.18h0.91v0.91h-0.91zM619.6 730.28h0.71v0.71h-0.71zM644.85 608.52h0.83v0.83h-0.83zM688.92 625.09h0.69v0.69h-0.69zM623.44 629.78h0.9v0.9h-0.9zM631.15 602.01h0.95v0.95h-0.95zM681.48 714.9h1.03v1.03h-1.03zM629.01 642.94h0.9v0.9h-0.9zM631.08 610.27h0.63v0.63h-0.63zM658.49 610.52h1.04v1.04h-1.04zM688.72 619.22h1.08v1.08h-1.08zM636.73 607.74h0.72v0.72h-0.72zM613.38 663.01h0.84v0.84h-0.84zM630.53 732.02h1.04v1.04h-1.04zM651.97 714.24h0.78v0.78h-0.78zM672.23 710.79h0.78v0.78h-0.78zM625.85 658.77h0.66v0.66h-0.66zM651.81 715.27h0.9v0.9h-0.9zM684.7 703.24h0.95v0.95h-0.95z" style="fill:#444;stroke:none"/>
<path d="M608 587.5V753" style="stroke-width:2;stroke:#222;stroke-dasharray:2.2 .6"/>
<path d="M610 590V751" style="stroke-width:2.4;stroke:#8a8a8a"/>
<line x1="611.5" y1="590.5" x2="611.5" y2="749.5" class="t"/>
<path d="M607 587.6H616.5M688.5 587.6H704.5M607 752.6H616.5M689.5 752.8H696" style="stroke-width:2.2;stroke:#111;stroke-dasharray:2.4 .5"/>
<rect x="690.5" y="592.5" width="12" height="6" class="t"/>
<path d="M704.5 588V599.5" style="stroke-width:1.6;stroke:#111;stroke-dasharray:1.6 .8"/>
<polyline points="611.5,590.5 616.5,590.5 616.5,598.5 689.2,598.5 689.2,590.5 704,590.5" class="t"/>
<rect x="616.5" y="594.5" width="73" height="4" class="gf"/>
<polyline points="611.5,749.5 616.5,749.5 616.5,744.5 689.2,744.5 689.2,747 690.5,747 690.5,750 696,750 701,745 701,742" class="t"/>
<line x1="616.5" y1="746.5" x2="689.2" y2="746.5" class="t"/>
<line x1="694.5" y1="598.5" x2="694.5" y2="742.5"/>
<rect x="643" y="634.5" width="35" height="63.7" style="stroke-width:3;stroke:#000;fill:#fff"/>
<line x1="644.5" y1="636" x2="676.5" y2="696.7" class="t"/>
<line x1="644.5" y1="696.7" x2="676.5" y2="636" class="t"/>
<polyline points="617.5,598.5 617.5,524.5 689.5,524.5 689.5,598.5"/>
<rect x="626.3" y="540.4" width="53.3" height="2.6" style="fill:#666;stroke:#333;stroke-width:.6"/>
<path d="M626.3 545.2H679.6" style="stroke-width:1.5;stroke:#000"/>
<line x1="626.5" y1="540.4" x2="626.5" y2="593.5" class="t"/>
<line x1="679.5" y1="540.4" x2="679.5" y2="593.5" class="t"/>
<rect x="628.2" y="546" width="3.8" height="47.5" style="fill:#777;stroke:none"/>
<rect x="632" y="546" width="1.9" height="47.5" style="fill:#000;stroke:none"/>
<rect x="673" y="546" width="2.8" height="47.5" style="fill:#000;stroke:none"/>
<line x1="677.5" y1="546" x2="677.5" y2="593.5" class="h"/>
<g transform="translate(0 1341.8) scale(1 -1)">
<polyline points="617.5,598.5 617.5,524.5 689.5,524.5 689.5,598.5"/>
<rect x="626.3" y="540.4" width="53.3" height="2.6" style="fill:#666;stroke:#333;stroke-width:.6"/>
<path d="M626.3 545.2H679.6" style="stroke-width:1.5;stroke:#000"/>
<line x1="626.5" y1="540.4" x2="626.5" y2="593.5" class="t"/>
<line x1="679.5" y1="540.4" x2="679.5" y2="593.5" class="t"/>
<rect x="628.2" y="546" width="3.8" height="47.5" style="fill:#777;stroke:none"/>
<rect x="632" y="546" width="1.9" height="47.5" style="fill:#000;stroke:none"/>
<rect x="673" y="546" width="2.8" height="47.5" style="fill:#000;stroke:none"/>
<line x1="677.5" y1="546" x2="677.5" y2="593.5" class="h"/>
</g>
<path d="M632.1 569.2 C637 558 645 549 656 547 C662 546.5 667 548 671.7 549.2 C668 556 660 563 650 566.5 C644 568.5 638 569.5 632.1 569.2 Z" class="w"/>
<path d="M664 554.5 l4 -1.5" class="t"/>
<path d="M643.5 762.5 L645.5 764 C652 763.5 660 762 666 759.5 L666.8 758.5 C671 768 673 780 671 793 L669 790.5 C662 794.5 652 796.5 647 795.5 L645 797 C643.5 786 642.8 773 643.5 762.5 Z" class="w"/>
<path d="M669 790.5 L667.5 786 M669 790.5 L671.5 786.5" class="t"/>
<line x1="696.5" y1="600.5" x2="696.5" y2="741.8"/>
<line x1="694.5" y1="743.5" x2="694.5" y2="741.8"/>
<line x1="696.3" y1="600.5" x2="766.6" y2="600.5"/>
<line x1="696.3" y1="741.5" x2="766.6" y2="741.5"/>
<polyline points="700.6,600.5 700.6,612.2" class="t"/>
<line x1="700.6" y1="606.5" x2="754" y2="606.5"/>
<path d="M700.6 611H750.5" style="stroke-width:2.6;stroke:#111"/>
<path d="M700.6 729.2H750.5" style="stroke-width:2.8;stroke:#111"/>
<rect x="700.5" y="730.5" width="50" height="3" class="gf"/>
<line x1="700.6" y1="734.5" x2="754" y2="734.5"/>
<line x1="700.5" y1="727.8" x2="700.5" y2="741.8" class="t"/>
<line x1="754.5" y1="606.3" x2="754.5" y2="734"/>
<path d="M750.6 610V730" style="stroke-width:2;stroke:#111"/>
<path d="M752.4 607V733.5" style="stroke-width:1.6;stroke:#999"/>
<line x1="696.3" y1="647.5" x2="716.6" y2="647.5" class="t"/>
<line x1="746.5" y1="647.5" x2="750" y2="647.5" class="t"/>
<line x1="696.3" y1="692.5" x2="713.6" y2="692.5" class="t"/>
<line x1="740.8" y1="692.5" x2="750" y2="692.5" class="t"/>
<path d="M734 632.5 L731.5 630 L727.5 615.3 C735 617 742 623 747 630.2 L744.5 633.5 L745.5 643 M727.5 615.3 C723 622 720 628 718.1 634 L721 636.5" class="w" style="fill:#fff"/>
<path d="M731.9 631 C738 634 743.5 640 746.25 645.8 C744 651 740 656 734.5 659 C727 657.5 720 653 716.6 648.1 C719.5 641 725 635 731.9 631 Z" class="w" style="fill:#fff"/>
<path d="M718.9 658.3 C727 657.5 737 660 744.7 664.5 C743 672 740.5 680 737.7 687.2 L718.9 674.7 L715 673.9 C714.6 668 716 662.5 718.9 658.3 Z" class="w" style="fill:#fff"/>
<path d="M718.9 674.7 L740.8 690.3 C738 697.5 733.5 704.5 728.3 709.8 C720 705 714 698 713.4 690.3 C713.6 684.5 715.8 679 718.9 674.7 Z" class="w" style="fill:#fff"/>
<path d="M746.25 645.8 l2.4 .4 M716.6 648.1 l-2 -.8 M744.7 664.5 l1.4 -1.8 M740.8 690.3 l2.2 -.4 M728.3 709.8 l.6 1.6" class="w"/>
<rect x="704.5" y="536.5" width="50" height="50"/>
<rect x="724.5" y="548.5" width="14" height="20" class="k2" style="fill:#666"/>
<rect x="726.5" y="550.5" width="4" height="5" style="fill:#fff"/>
<rect x="731.5" y="553.5" width="2" height="8" style="fill:#fff"/>
<rect x="734.5" y="550.5" width="3" height="10" style="fill:#444"/>
<rect x="725.5" y="557.5" width="5" height="4" class="bf"/>
<rect x="726.5" y="563.5" width="7" height="3" style="fill:#fff"/>
<path d="M738.5 561 C742 562 745 567 744.5 572 C744 577 739 578 737 575 C735.5 572 736 568 737.5 565.5" class="k2"/>
<circle cx="713" cy="762.5" r="18.6"/>
<circle cx="713" cy="762.5" r="5.8" class="t"/>
<line x1="702" y1="762.5" x2="724" y2="762.5" class="t"/>
<line x1="713.5" y1="752" x2="713.5" y2="774.5" class="t"/>
<path d="M713 759.5 c3 0 3 5 0 5" class="t"/>
<polygon points="752.5,761.2 768,779.2 730.8,810.5 715.8,791.7"/>
<line x1="719.2" y1="789" x2="754.8" y2="763.8" class="t"/>
<line x1="754.2" y1="763.2" x2="730.8" y2="810.5" class="t"/>
<polyline points="766.5,822.5 766.5,524.5 776.5,524.5 776.5,820.5"/>
<polyline points="766.5,822.5 721.5,822.5 721.5,837.5"/>
<g transform="translate(581.8 875.3) scale(1 1) rotate(31)">
<path d="M-14.2 -12.5 L-16.5 -13.7 Q-17.8 -13 -17.6 -11 L-17.6 9.5 Q-17.5 13.5 -13.5 13.5 L13.5 13.5 Q17.5 13.5 17.6 9.5 L17.6 -9 Q17.8 -13 16 -13.4 L14.2 -11.5"/>
<path d="M-14.2 -12.5 L-14.2 7.8 Q-14.2 10.2 -11.8 10.2 L11.8 10.2 Q14.2 10.2 14.2 7.8 L14.2 -8.5 Q14.2 -13.5 9 -14 Q-3 -15 -14.2 -12.5" class="t"/>
<path d="M-14.2 8.6 L14.2 8.6 M-14.2 7.8 L-17.4 10.5 M14.2 7.8 L17.4 10.5" class="t"/>
</g>
<g transform="translate(680.8 875.3) scale(-1 1) rotate(31)">
<path d="M-14.2 -12.5 L-16.5 -13.7 Q-17.8 -13 -17.6 -11 L-17.6 9.5 Q-17.5 13.5 -13.5 13.5 L13.5 13.5 Q17.5 13.5 17.6 9.5 L17.6 -9 Q17.8 -13 16 -13.4 L14.2 -11.5"/>
<path d="M-14.2 -12.5 L-14.2 7.8 Q-14.2 10.2 -11.8 10.2 L11.8 10.2 Q14.2 10.2 14.2 7.8 L14.2 -8.5 Q14.2 -13.5 9 -14 Q-3 -15 -14.2 -12.5" class="t"/>
<path d="M-14.2 8.6 L14.2 8.6 M-14.2 7.8 L-17.4 10.5 M14.2 7.8 L17.4 10.5" class="t"/>
</g>
<circle cx="631.3" cy="877.3" r="22"/>
<circle cx="631.3" cy="877.3" r="20.2" class="t"/>
<circle cx="631.3" cy="877.3" r="10" style="fill:#fff"/>
<g clip-path="url(#rtc)">
<line x1="614" y1="866.67" x2="628.67" y2="893.33" class="t"/>
<line x1="612" y1="870" x2="624.67" y2="894.67" class="t"/>
<line x1="626.67" y1="858.67" x2="645.33" y2="888.67" class="t"/>
<line x1="628.67" y1="858" x2="646" y2="886.67" class="t"/>
<line x1="641.33" y1="862.67" x2="648.67" y2="873.33" class="t"/>
</g>
<circle cx="631.3" cy="877.3" r="10" style="fill:#fff"/>
<line x1="628.67" y1="873.33" x2="635.33" y2="884" class="t"/>
<line x1="634" y1="868.67" x2="643.33" y2="883.33" class="t"/>
<line x1="635.33" y1="868" x2="644.4" y2="882.4" class="t"/>
<clipPath id="rtc"><circle cx="631.3" cy="877.3" r="20.2"/></clipPath>
<rect x="475.5" y="837.5" width="46" height="44"/>
<line x1="478.5" y1="837.2" x2="478.5" y2="881.5" class="t"/>
<line x1="484.5" y1="837.2" x2="484.5" y2="878" class="t"/>
<path d="M484.6 838.3 H514.6 Q518.6 838.3 518.6 842.3 V874 Q518.6 878 514.6 878 H484.6" class="t"/>
<path d="M486 840.2 H512.6 Q515.4 840.2 515.4 843 V873.2 Q515.4 876 512.6 876 H486 Z" class="t"/>
<line x1="475.5" y1="878.5" x2="484.6" y2="878.5" class="t"/>
<rect x="476.5" y="838.5" width="4" height="5" class="t"/>
<ellipse cx="482" cy="867.8" rx="2.1" ry="3.2" style="fill:#222;stroke:#000"/>
<rect x="475.5" y="882.5" width="46" height="46"/>
<rect x="477.5" y="884.5" width="42" height="42"/>
<line x1="477.9" y1="884.9" x2="519.1" y2="926.1" class="t"/>
<line x1="477.9" y1="926.1" x2="519.1" y2="884.9" class="t"/>
<line x1="522.5" y1="913.5" x2="940" y2="913.5"/>
<line x1="522.5" y1="927.5" x2="940" y2="927.5"/>
<path d="M524.7 918.12 a1.99 2.15 0 0 1 3.98 0 a1.99 2.15 0 0 0 3.98 0 a1.99 2.15 0 0 1 3.98 0 a1.99 2.15 0 0 0 3.98 0 a1.99 2.15 0 0 1 3.98 0 a1.99 2.15 0 0 0 3.98 0 a1.99 2.15 0 0 1 3.98 0 a1.99 2.15 0 0 0 3.98 0 a1.99 2.15 0 0 1 3.98 0 a1.99 2.15 0 0 0 3.98 0 a1.99 2.15 0 0 1 3.98 0" class="w"/>
<path d="M524.7 923.02 a1.99 2.15 0 0 1 3.98 0 a1.99 2.15 0 0 0 3.98 0 a1.99 2.15 0 0 1 3.98 0 a1.99 2.15 0 0 0 3.98 0 a1.99 2.15 0 0 1 3.98 0 a1.99 2.15 0 0 0 3.98 0 a1.99 2.15 0 0 1 3.98 0 a1.99 2.15 0 0 0 3.98 0 a1.99 2.15 0 0 1 3.98 0 a1.99 2.15 0 0 0 3.98 0 a1.99 2.15 0 0 1 3.98 0" class="w"/>
<polyline points="567.4,916.32 569.8,918.12 567.4,919.92" class="w"/>
<polyline points="567.4,921.22 569.8,923.02 567.4,924.82" class="w"/>
<path d="M895 918.12 a1.99 2.15 0 0 1 3.98 0 a1.99 2.15 0 0 0 3.98 0 a1.99 2.15 0 0 1 3.98 0 a1.99 2.15 0 0 0 3.98 0 a1.99 2.15 0 0 1 3.98 0 a1.99 2.15 0 0 0 3.98 0 a1.99 2.15 0 0 1 3.98 0 a1.99 2.15 0 0 0 3.98 0 a1.99 2.15 0 0 1 3.98 0 a1.99 2.15 0 0 0 3.98 0 a1.99 2.15 0 0 1 3.98 0" class="w"/>
<path d="M895 923.02 a1.99 2.15 0 0 1 3.98 0 a1.99 2.15 0 0 0 3.98 0 a1.99 2.15 0 0 1 3.98 0 a1.99 2.15 0 0 0 3.98 0 a1.99 2.15 0 0 1 3.98 0 a1.99 2.15 0 0 0 3.98 0 a1.99 2.15 0 0 1 3.98 0 a1.99 2.15 0 0 0 3.98 0 a1.99 2.15 0 0 1 3.98 0 a1.99 2.15 0 0 0 3.98 0 a1.99 2.15 0 0 1 3.98 0" class="w"/>
<polyline points="896.1,916.32 893.7,918.12 896.1,919.92" class="w"/>
<polyline points="896.1,921.22 893.7,923.02 896.1,924.82" class="w"/>
<line x1="531.3" y1="933.5" x2="920" y2="933.5"/>
<line x1="531.3" y1="940.5" x2="920" y2="940.5"/>
<line x1="531.5" y1="927.5" x2="531.5" y2="945.5"/>
<line x1="920.5" y1="927.5" x2="920.5" y2="945.5"/>
<line x1="940.5" y1="837.5" x2="940.5" y2="927.5"/>
<line x1="721.3" y1="837.5" x2="809.5" y2="837.5"/>
<line x1="909.5" y1="837.5" x2="940" y2="837.5"/>
<line x1="525.8" y1="21.5" x2="629.7" y2="21.5"/>
<line x1="525.8" y1="26.5" x2="629.7" y2="26.5"/>
<line x1="525.5" y1="15.5" x2="525.5" y2="33.5"/>
<line x1="629.5" y1="15.5" x2="629.5" y2="33.5"/>
<polyline points="522.5,160.5 477.5,160.5 477.5,33.5 674.5,33.5 674.5,160.5 629.5,160.5"/>
<polyline points="522.5,159.5 479.5,159.5 479.5,35.5 672.5,35.5 672.5,159.5 629.5,159.5"/>
<polyline points="522.5,158.5 522.5,78.5 629.5,78.5 629.5,158.5"/>
<polyline points="522.3,158.5 525.5,158.5 525.5,171.4 521.4,171.4" class="t"/>
<line x1="523.5" y1="160.5" x2="523.5" y2="169" class="t"/>
<polyline points="629.7,158.5 626.5,158.5 626.5,171.4 630.6,171.4" class="t"/>
<line x1="628.5" y1="160.5" x2="628.5" y2="169" class="t"/>
<rect x="525.5" y="165.5" width="50" height="2" class="t"/>
<rect x="575.5" y="162.5" width="51" height="3" class="t"/>
<polyline points="626.5,168.5 674.5,168.5"/>
<rect x="477.5" y="168.5" width="39" height="129"/>
<rect x="479.5" y="171.5" width="35" height="124"/>
<line x1="479.6" y1="171.3" x2="514.7" y2="295" class="t"/>
<line x1="479.6" y1="295" x2="514.7" y2="171.3" class="t"/>
<line x1="477.5" y1="160.5" x2="477.5" y2="305.3"/>
<rect x="642.5" y="169.5" width="32" height="94"/>
<rect x="644.5" y="171.5" width="28" height="90"/>
<line x1="644.6" y1="171.3" x2="672.8" y2="261.3" class="t"/>
<polygon points="524.8,41.3 568.1,41.3 572.5,45.7 572.5,67.3 568.1,71.7 524.8,71.7 520.4,67.3 520.4,45.7" class="t"/>
<polygon points="526,43.3 567,43.3 570.4,46.7 570.4,66.3 567,69.7 526,69.7 522.6,66.3 522.6,46.7" style="fill:#111"/>
<rect x="545.5" y="44.5" width="24" height="6" style="fill:#fff"/>
<rect x="524.6" y="44.3" width="20" height="24" rx="5.5" style="fill:#fff;stroke:#000;stroke-width:1"/>
<rect x="548.7" y="49.8" width="19.6" height="18.2" rx="5.5" style="fill:#fff;stroke:#000;stroke-width:1"/>
<rect x="545.5" y="50.5" width="3" height="17" style="fill:#fff"/>
<circle cx="535" cy="57" r="1.7" class="k2"/>
<circle cx="559.2" cy="60" r="1.7" class="k2"/>
<path d="M544.5 46.3 q4 3.6 7.5 .2 q.8 -1.6 -1 -2" class="t"/>
<circle cx="548.5" cy="45.8" r="1" class="bf"/>
<path d="M551 54.5 l2.4 1.6 M554.5 54 l1 2.4 M556.5 54 l1.6 2" class="k2"/>
<rect x="580.5" y="41.5" width="43" height="31"/>
<rect x="585.5" y="46.5" width="33" height="22" style="fill:#8a8a8a"/>
<line x1="585.8" y1="48.5" x2="618" y2="48.5" class="h"/>
<line x1="585.8" y1="50.5" x2="618" y2="50.5" class="h"/>
<line x1="585.8" y1="53.5" x2="618" y2="53.5" class="h"/>
<line x1="585.8" y1="55.5" x2="618" y2="55.5" class="h"/>
<line x1="585.8" y1="57.5" x2="618" y2="57.5" class="h"/>
<line x1="585.8" y1="59.5" x2="618" y2="59.5" class="h"/>
<line x1="585.8" y1="61.5" x2="618" y2="61.5" class="h"/>
<line x1="585.8" y1="63.5" x2="618" y2="63.5" class="h"/>
<line x1="585.8" y1="65.5" x2="618" y2="65.5" class="h"/>
<rect x="585.5" y="51.5" width="33" height="1.6" style="fill:#fff;stroke:none"/>
<line x1="590" y1="43.5" x2="600" y2="43.5" class="k2"/>
<line x1="605" y1="43.5" x2="609" y2="43.5" class="k2"/>
<polygon points="602.5,61.3 609.4,55.6 620.8,69.4 612.8,72.2" style="fill:#fff"/>
<polygon points="619.1,70.5 622.5,68.8 626,74.5 623.1,76.2" class="t" style="fill:#fff"/>
<rect x="634.5" y="90.5" width="32" height="48"/>
<line x1="639.5" y1="90.3" x2="639.5" y2="138.4"/>
<circle cx="652.9" cy="102.4" r="6.5" style="stroke-width:1.7;stroke:#111"/>
<line x1="658.2" y1="107.7" x2="660.54" y2="110.04" class="t"/>
<line x1="655.02" y1="104.52" x2="656.44" y2="105.94" class="t"/>
<line x1="647.6" y1="107.7" x2="645.26" y2="110.04" class="t"/>
<line x1="650.78" y1="104.52" x2="649.36" y2="105.94" class="t"/>
<line x1="647.6" y1="97.1" x2="645.26" y2="94.76" class="t"/>
<line x1="650.78" y1="100.28" x2="649.36" y2="98.86" class="t"/>
<line x1="658.2" y1="97.1" x2="660.54" y2="94.76" class="t"/>
<line x1="655.02" y1="100.28" x2="656.44" y2="98.86" class="t"/>
<circle cx="636.4" cy="102.4" r="2.2" class="bf"/>
<circle cx="652.9" cy="126.1" r="6.5" style="stroke-width:1.7;stroke:#111"/>
<line x1="658.2" y1="131.4" x2="660.54" y2="133.74" class="t"/>
<line x1="655.02" y1="128.22" x2="656.44" y2="129.64" class="t"/>
<line x1="647.6" y1="131.4" x2="645.26" y2="133.74" class="t"/>
<line x1="650.78" y1="128.22" x2="649.36" y2="129.64" class="t"/>
<line x1="647.6" y1="120.8" x2="645.26" y2="118.46" class="t"/>
<line x1="650.78" y1="123.98" x2="649.36" y2="122.56" class="t"/>
<line x1="658.2" y1="120.8" x2="660.54" y2="118.46" class="t"/>
<line x1="655.02" y1="123.98" x2="656.44" y2="122.56" class="t"/>
<circle cx="636.4" cy="126.1" r="2.2" class="bf"/>
<path d="M660 108 l3 -1.5 M661 112 l2.5 0 M661 116 l2.5 1 M660 119.5 l3 1.5" class="k2"/>
<path d="M537 102.5 C538.5 108 545 111.5 552 110 C558 108.8 562.5 104.5 563 99.5 C567 94 566.5 85 561 76 C557.5 70 552 62 549 55" class="w"/>
<path d="M557.5 97.5 C559 90 556.5 82 552.5 75 C550 70 548.5 64 549.5 58" class="w"/>
<path d="M537 102.5 C533 101.5 530.5 98 531 95 L534 89 L535 84 L536.5 78 L538 76.5 L539.5 78.5 L539 83 L541.5 82.5 L543.5 86 L542.5 88.5 L546 87 L550 85.5 L552.5 86.5 L556 95.5 L557.5 97.5" class="w"/>
<path d="M535 84 L537.5 86 L536.5 92 L539.5 94.5 L538.5 97.5 L541.5 98.5 L542 93.5 L546 91 L549.5 89.5 L550 85.5" class="w"/>
<path d="M552.5 86.5 L555 84 L558.5 89" class="w"/>
<path d="M500.5 122.5 l1.5 1 M500.5 126 l2 0 M500.5 129.5 l1.5 1.2 M502.5 124.5 l0 3" class="k2"/>
<line x1="747.5" y1="21.5" x2="851.5" y2="21.5"/>
<line x1="747.5" y1="26.5" x2="851.5" y2="26.5"/>
<line x1="747.5" y1="15.5" x2="747.5" y2="33.7"/>
<line x1="851.5" y1="15.5" x2="851.5" y2="33.7"/>
<polyline points="685.5,254.5 685.5,33.5 905.5,33.5 905.5,254.5 753.5,254.5"/>
<line x1="685.8" y1="160.5" x2="905.8" y2="160.5"/>
<line x1="685.8" y1="48.5" x2="724.5" y2="48.5"/>
<line x1="866.7" y1="48.5" x2="905.8" y2="48.5"/>
<path d="M724.5 49.5H746.05M724.5 45.5H746.05M724.5 42.5H746.05M724.5 38.5H746.05M724.5 35.5H746.05M749.5 33.7V53.1M753.5 33.7V53.1M756.5 33.7V53.1M760.5 33.7V53.1M764.5 33.7V53.1M767.6 49.5H789.15M767.6 45.5H789.15M767.6 42.5H789.15M767.6 38.5H789.15M767.6 35.5H789.15M792.5 33.7V53.1M796.5 33.7V53.1M799.5 33.7V53.1M803.5 33.7V53.1M807.5 33.7V53.1M810.7 49.5H832.25M810.7 45.5H832.25M810.7 42.5H832.25M810.7 38.5H832.25M810.7 35.5H832.25M835.5 33.7V53.1M839.5 33.7V53.1M843.5 33.7V53.1M846.5 33.7V53.1M850.5 33.7V53.1M853.8 49.5H866.7M853.8 45.5H866.7M853.8 42.5H866.7M853.8 38.5H866.7M853.8 35.5H866.7M728.5 53.1V74.6M731.5 53.1V74.6M735.5 53.1V74.6M738.5 53.1V74.6M742.5 53.1V74.6M746.05 71.5H767.6M746.05 67.5H767.6M746.05 63.5H767.6M746.05 60.5H767.6M746.05 56.5H767.6M771.5 53.1V74.6M774.5 53.1V74.6M778.5 53.1V74.6M781.5 53.1V74.6M785.5 53.1V74.6M789.15 71.5H810.7M789.15 67.5H810.7M789.15 63.5H810.7M789.15 60.5H810.7M789.15 56.5H810.7M814.5 53.1V74.6M817.5 53.1V74.6M821.5 53.1V74.6M825.5 53.1V74.6M828.5 53.1V74.6M832.25 71.5H853.8M832.25 67.5H853.8M832.25 63.5H853.8M832.25 60.5H853.8M832.25 56.5H853.8M857.5 53.1V74.6M860.5 53.1V74.6M864.5 53.1V74.6M724.5 92.5H746.05M724.5 88.5H746.05M724.5 85.5H746.05M724.5 81.5H746.05M724.5 78.5H746.05M749.5 74.6V96.1M753.5 74.6V96.1M756.5 74.6V96.1M760.5 74.6V96.1M764.5 74.6V96.1M767.6 92.5H789.15M767.6 88.5H789.15M767.6 85.5H789.15M767.6 81.5H789.15M767.6 78.5H789.15M792.5 74.6V96.1M796.5 74.6V96.1M799.5 74.6V96.1M803.5 74.6V96.1M807.5 74.6V96.1M810.7 92.5H832.25M810.7 88.5H832.25M810.7 85.5H832.25M810.7 81.5H832.25M810.7 78.5H832.25M835.5 74.6V96.1M839.5 74.6V96.1M843.5 74.6V96.1M846.5 74.6V96.1M850.5 74.6V96.1M853.8 92.5H866.7M853.8 88.5H866.7M853.8 85.5H866.7M853.8 81.5H866.7M853.8 78.5H866.7M728.5 96.1V117.6M731.5 96.1V117.6M735.5 96.1V117.6M738.5 96.1V117.6M742.5 96.1V117.6M746.05 114.5H767.6M746.05 110.5H767.6M746.05 106.5H767.6M746.05 103.5H767.6M746.05 99.5H767.6M771.5 96.1V117.6M774.5 96.1V117.6M778.5 96.1V117.6M781.5 96.1V117.6M785.5 96.1V117.6M789.15 114.5H810.7M789.15 110.5H810.7M789.15 106.5H810.7M789.15 103.5H810.7M789.15 99.5H810.7M814.5 96.1V117.6M817.5 96.1V117.6M821.5 96.1V117.6M825.5 96.1V117.6M828.5 96.1V117.6M832.25 114.5H853.8M832.25 110.5H853.8M832.25 106.5H853.8M832.25 103.5H853.8M832.25 99.5H853.8M857.5 96.1V117.6M860.5 96.1V117.6M864.5 96.1V117.6M724.5 135.5H746.05M724.5 131.5H746.05M724.5 128.5H746.05M724.5 124.5H746.05M724.5 121.5H746.05M749.5 117.6V139.1M753.5 117.6V139.1M756.5 117.6V139.1M760.5 117.6V139.1M764.5 117.6V139.1M767.6 135.5H789.15M767.6 131.5H789.15M767.6 128.5H789.15M767.6 124.5H789.15M767.6 121.5H789.15M792.5 117.6V139.1M796.5 117.6V139.1M799.5 117.6V139.1M803.5 117.6V139.1M807.5 117.6V139.1M810.7 135.5H832.25M810.7 131.5H832.25M810.7 128.5H832.25M810.7 124.5H832.25M810.7 121.5H832.25M835.5 117.6V139.1M839.5 117.6V139.1M843.5 117.6V139.1M846.5 117.6V139.1M850.5 117.6V139.1M853.8 135.5H866.7M853.8 131.5H866.7M853.8 128.5H866.7M853.8 124.5H866.7M853.8 121.5H866.7M728.5 139.1V160.6M731.5 139.1V160.6M735.5 139.1V160.6M738.5 139.1V160.6M742.5 139.1V160.6M746.05 157.5H767.6M746.05 153.5H767.6M746.05 149.5H767.6M746.05 146.5H767.6M746.05 142.5H767.6M771.5 139.1V160.6M774.5 139.1V160.6M778.5 139.1V160.6M781.5 139.1V160.6M785.5 139.1V160.6M789.15 157.5H810.7M789.15 153.5H810.7M789.15 149.5H810.7M789.15 146.5H810.7M789.15 142.5H810.7M814.5 139.1V160.6M817.5 139.1V160.6M821.5 139.1V160.6M825.5 139.1V160.6M828.5 139.1V160.6M832.25 157.5H853.8M832.25 153.5H853.8M832.25 149.5H853.8M832.25 146.5H853.8M832.25 142.5H853.8M857.5 139.1V160.6M860.5 139.1V160.6M864.5 139.1V160.6" class="h"/>
<line x1="724.5" y1="33.7" x2="724.5" y2="160.6" class="t"/>
<line x1="746.5" y1="33.7" x2="746.5" y2="160.6" class="t"/>
<line x1="767.5" y1="33.7" x2="767.5" y2="160.6" class="t"/>
<line x1="789.5" y1="33.7" x2="789.5" y2="160.6" class="t"/>
<line x1="810.5" y1="33.7" x2="810.5" y2="160.6" class="t"/>
<line x1="832.5" y1="33.7" x2="832.5" y2="160.6" class="t"/>
<line x1="853.5" y1="33.7" x2="853.5" y2="160.6" class="t"/>
<line x1="866.5" y1="33.7" x2="866.5" y2="160.6" class="t"/>
<line x1="724.5" y1="53.5" x2="866.7" y2="53.5" class="t"/>
<line x1="724.5" y1="74.5" x2="866.7" y2="74.5" class="t"/>
<line x1="724.5" y1="96.5" x2="866.7" y2="96.5" class="t"/>
<line x1="724.5" y1="117.5" x2="866.7" y2="117.5" class="t"/>
<line x1="724.5" y1="139.5" x2="866.7" y2="139.5" class="t"/>
<line x1="724.5" y1="160.5" x2="866.7" y2="160.5" class="t"/>
<rect x="766.5" y="75.5" width="58" height="43" style="fill:#fff"/>
<polyline points="824.4,96.5 824.4,118.3 866.7,118.3" class="k2"/>
<path d="M687.5 38.25 a2.05 2.15 0 0 1 4.09 0 a2.05 2.15 0 0 0 4.09 0 a2.05 2.15 0 0 1 4.09 0 a2.05 2.15 0 0 0 4.09 0 a2.05 2.15 0 0 1 4.09 0 a2.05 2.15 0 0 0 4.09 0 a2.05 2.15 0 0 1 4.09 0 a2.05 2.15 0 0 0 4.09 0 a2.05 2.15 0 0 1 4.09 0 a2.05 2.15 0 0 0 4.09 0 a2.05 2.15 0 0 1 4.09 0" class="w"/>
<path d="M687.5 43.08 a2.05 2.15 0 0 1 4.09 0 a2.05 2.15 0 0 0 4.09 0 a2.05 2.15 0 0 1 4.09 0 a2.05 2.15 0 0 0 4.09 0 a2.05 2.15 0 0 1 4.09 0 a2.05 2.15 0 0 0 4.09 0 a2.05 2.15 0 0 1 4.09 0 a2.05 2.15 0 0 0 4.09 0 a2.05 2.15 0 0 1 4.09 0 a2.05 2.15 0 0 0 4.09 0 a2.05 2.15 0 0 1 4.09 0" class="w"/>
<polyline points="731.4,36.45 733.8,38.25 731.4,40.05" class="w"/>
<polyline points="731.4,41.28 733.8,43.08 731.4,44.88" class="w"/>
<path d="M857.5 38.25 a1.94 2.15 0 0 1 3.88 0 a1.94 2.15 0 0 0 3.88 0 a1.94 2.15 0 0 1 3.88 0 a1.94 2.15 0 0 0 3.88 0 a1.94 2.15 0 0 1 3.88 0 a1.94 2.15 0 0 0 3.88 0 a1.94 2.15 0 0 1 3.88 0 a1.94 2.15 0 0 0 3.88 0 a1.94 2.15 0 0 1 3.88 0 a1.94 2.15 0 0 0 3.88 0 a1.94 2.15 0 0 1 3.88 0 a1.94 2.15 0 0 0 3.88 0" class="w"/>
<path d="M857.5 43.08 a1.94 2.15 0 0 1 3.88 0 a1.94 2.15 0 0 0 3.88 0 a1.94 2.15 0 0 1 3.88 0 a1.94 2.15 0 0 0 3.88 0 a1.94 2.15 0 0 1 3.88 0 a1.94 2.15 0 0 0 3.88 0 a1.94 2.15 0 0 1 3.88 0 a1.94 2.15 0 0 0 3.88 0 a1.94 2.15 0 0 1 3.88 0 a1.94 2.15 0 0 0 3.88 0 a1.94 2.15 0 0 1 3.88 0 a1.94 2.15 0 0 0 3.88 0" class="w"/>
<polyline points="858.6,36.45 856.2,38.25 858.6,40.05" class="w"/>
<polyline points="858.6,41.28 856.2,43.08 858.6,44.88" class="w"/>
<rect x="685.5" y="48.5" width="39" height="110"/>
<rect x="688.5" y="50.5" width="34" height="107"/>
<line x1="688.3" y1="50.5" x2="722.3" y2="157" class="t"/>
<line x1="688.3" y1="157" x2="722.3" y2="50.5" class="t"/>
<rect x="866.5" y="48.5" width="39" height="110"/>
<rect x="869.5" y="50.5" width="34" height="107"/>
<line x1="869.2" y1="50.5" x2="903.6" y2="157" class="t"/>
<line x1="869.2" y1="157" x2="903.6" y2="50.5" class="t"/>
<rect x="866.5" y="162.5" width="39" height="92"/>
<rect x="868.5" y="163.5" width="35" height="89"/>
<g transform="translate(450.5 120.4)">
<path d="M428.5 73.7 L405.2 63.5 C396 66 388 74 387.3 84.3 C387.5 90 389 94 391.7 97 L415 107.3 L416.1 104"/>
<path d="M427.8 74.9 L405.3 65.6 C398 68 390.5 75 390.3 84 C390.3 89 391.5 93 393.3 95.3 L415.6 105.6" class="t"/>
<path d="M426.7 76.3 L405.5 68.2 C399 71 395 76 394.6 81.4 L394.6 93 L416.1 104"/>
<line x1="428.5" y1="73.7" x2="426.7" y2="76.3"/>
<path d="M426.7 76.3 Q426.6 89.85 416.1 104" class="t"/>
</g>
<rect x="686.5" y="190.5" width="3" height="64" class="t" style="fill:#b8b8b8"/>
<path d="M685.2 196.5 v5.5 M691.3 196.5 v5.5" class="k2"/>
<line x1="685.2" y1="201.5" x2="691.3" y2="201.5" class="t"/>
<path d="M689.2 190 A63.3 63.3 0 0 1 752.5 253.3" class="d"/>
<rect x="686.5" y="254.5" width="4" height="11" class="t"/>
<rect x="750.5" y="253.5" width="4" height="12" class="t"/>
<polyline points="674.5,263.5 686.5,263.5"/>
<polyline points="754.5,263.5 767.5,263.5 767.5,428.5 813.5,428.5"/>
<clipPath id="tbl"><rect x="570.75" y="319.8" width="113.75" height="60"/></clipPath><g clip-path="url(#tbl)">
<line x1="570.75" y1="334.5" x2="581.25" y2="319.8" class="t"/>
<line x1="572.25" y1="378.75" x2="633.75" y2="319.8" class="t"/>
<line x1="585" y1="372.75" x2="639" y2="325.2" class="t"/>
<line x1="593.25" y1="372.75" x2="644.99" y2="328.2" class="t"/>
<line x1="596.25" y1="372.75" x2="647.69" y2="328.5" class="t"/>
<line x1="609" y1="372.75" x2="660.74" y2="328.5" class="t"/>
<line x1="647.99" y1="343.8" x2="658.79" y2="331.5" class="t"/>
<line x1="632.25" y1="379.8" x2="648.29" y2="361.2" class="t"/>
<line x1="637.5" y1="379.8" x2="684.74" y2="322.5" class="t"/>
<line x1="647.99" y1="372.75" x2="672.74" y2="346.5" class="t"/>
<line x1="661.49" y1="342.75" x2="671.99" y2="333" class="t"/>
<line x1="655.49" y1="372" x2="659.99" y2="366.75" class="t"/>
<line x1="671.99" y1="355.5" x2="674.24" y2="351.75" class="t"/>
<line x1="580.2" y1="345.75" x2="596.25" y2="327.75" class="t"/>
<line x1="581.25" y1="347.7" x2="597.75" y2="328.8" class="t"/>
<line x1="582.45" y1="349.2" x2="598.8" y2="329.7" class="t"/>
<line x1="670.79" y1="375" x2="680.99" y2="364.2" class="t"/>
<line x1="671.99" y1="376.2" x2="682.19" y2="365.25" class="t"/>
</g>
<g transform="translate(598.1 326.7) rotate(0)">
<path d="M-14.5 -16.9 L-14.5 -2 Q-14.5 0 -12.5 0 L12.5 0 Q14.5 0 14.5 -2 L14.5 -16.9" class="wf"/>
<path d="M-14.5 -14.7 L-17.6 -14.7 L-17.6 -28.9 Q-17.6 -32 -10 -34.3 Q0 -36.5 10 -34.3 Q17.6 -32 17.6 -28.9 L17.6 -14.7 L14.5 -14.7"/>
<path d="M-13.1 -16.9 L-13.1 -26.7 Q-6 -31.5 0 -31.5 Q6 -31.5 13.1 -26.7 L13.1 -16.9" class="t"/>
<path d="M-12.4 -25 Q0 -34.5 12.4 -25" class="t"/>
<path d="M-14.5 -16.9 L-13.1 -16.9 M14.5 -16.9 L13.1 -16.9 M-14.5 -14.7 L-14.5 -16.9 M14.5 -14.7 L14.5 -16.9" class="t"/>
</g>
<g transform="translate(657.7 326.7) rotate(0)">
<path d="M-14.5 -16.9 L-14.5 -2 Q-14.5 0 -12.5 0 L12.5 0 Q14.5 0 14.5 -2 L14.5 -16.9" class="wf"/>
<path d="M-14.5 -14.7 L-17.6 -14.7 L-17.6 -28.9 Q-17.6 -32 -10 -34.3 Q0 -36.5 10 -34.3 Q17.6 -32 17.6 -28.9 L17.6 -14.7 L14.5 -14.7"/>
<path d="M-13.1 -16.9 L-13.1 -26.7 Q-6 -31.5 0 -31.5 Q6 -31.5 13.1 -26.7 L13.1 -16.9" class="t"/>
<path d="M-12.4 -25 Q0 -34.5 12.4 -25" class="t"/>
<path d="M-14.5 -16.9 L-13.1 -16.9 M14.5 -16.9 L13.1 -16.9 M-14.5 -14.7 L-14.5 -16.9 M14.5 -14.7 L14.5 -16.9" class="t"/>
</g>
<g transform="translate(598.1 372.5) rotate(180)">
<path d="M-14.5 -16.9 L-14.5 -2 Q-14.5 0 -12.5 0 L12.5 0 Q14.5 0 14.5 -2 L14.5 -16.9" class="wf"/>
<path d="M-14.5 -14.7 L-17.6 -14.7 L-17.6 -28.9 Q-17.6 -32 -10 -34.3 Q0 -36.5 10 -34.3 Q17.6 -32 17.6 -28.9 L17.6 -14.7 L14.5 -14.7"/>
<path d="M-13.1 -16.9 L-13.1 -26.7 Q-6 -31.5 0 -31.5 Q6 -31.5 13.1 -26.7 L13.1 -16.9" class="t"/>
<path d="M-12.4 -25 Q0 -34.5 12.4 -25" class="t"/>
<path d="M-14.5 -16.9 L-13.1 -16.9 M14.5 -16.9 L13.1 -16.9 M-14.5 -14.7 L-14.5 -16.9 M14.5 -14.7 L14.5 -16.9" class="t"/>
</g>
<g transform="translate(657.7 372.5) rotate(180)">
<path d="M-14.5 -16.9 L-14.5 -2 Q-14.5 0 -12.5 0 L12.5 0 Q14.5 0 14.5 -2 L14.5 -16.9" class="wf"/>
<path d="M-14.5 -14.7 L-17.6 -14.7 L-17.6 -28.9 Q-17.6 -32 -10 -34.3 Q0 -36.5 10 -34.3 Q17.6 -32 17.6 -28.9 L17.6 -14.7 L14.5 -14.7"/>
<path d="M-13.1 -16.9 L-13.1 -26.7 Q-6 -31.5 0 -31.5 Q6 -31.5 13.1 -26.7 L13.1 -16.9" class="t"/>
<path d="M-12.4 -25 Q0 -34.5 12.4 -25" class="t"/>
<path d="M-14.5 -16.9 L-13.1 -16.9 M14.5 -16.9 L13.1 -16.9 M-14.5 -14.7 L-14.5 -16.9 M14.5 -14.7 L14.5 -16.9" class="t"/>
</g>
<g transform="translate(580.5 350) rotate(-90)">
<path d="M-14.5 -16.9 L-14.5 -2 Q-14.5 0 -12.5 0 L12.5 0 Q14.5 0 14.5 -2 L14.5 -16.9" class="wf"/>
<path d="M-14.5 -14.7 L-17.6 -14.7 L-17.6 -28.9 Q-17.6 -32 -10 -34.3 Q0 -36.5 10 -34.3 Q17.6 -32 17.6 -28.9 L17.6 -14.7 L14.5 -14.7"/>
<path d="M-13.1 -16.9 L-13.1 -26.7 Q-6 -31.5 0 -31.5 Q6 -31.5 13.1 -26.7 L13.1 -16.9" class="t"/>
<path d="M-12.4 -25 Q0 -34.5 12.4 -25" class="t"/>
<path d="M-14.5 -16.9 L-13.1 -16.9 M14.5 -16.9 L13.1 -16.9 M-14.5 -14.7 L-14.5 -16.9 M14.5 -14.7 L14.5 -16.9" class="t"/>
</g>
<g transform="translate(674 350) rotate(90)">
<path d="M-14.5 -16.9 L-14.5 -2 Q-14.5 0 -12.5 0 L12.5 0 Q14.5 0 14.5 -2 L14.5 -16.9" class="wf"/>
<path d="M-14.5 -14.7 L-17.6 -14.7 L-17.6 -28.9 Q-17.6 -32 -10 -34.3 Q0 -36.5 10 -34.3 Q17.6 -32 17.6 -28.9 L17.6 -14.7 L14.5 -14.7"/>
<path d="M-13.1 -16.9 L-13.1 -26.7 Q-6 -31.5 0 -31.5 Q6 -31.5 13.1 -26.7 L13.1 -16.9" class="t"/>
<path d="M-12.4 -25 Q0 -34.5 12.4 -25" class="t"/>
<path d="M-14.5 -16.9 L-13.1 -16.9 M14.5 -16.9 L13.1 -16.9 M-14.5 -14.7 L-14.5 -16.9 M14.5 -14.7 L14.5 -16.9" class="t"/>
</g>
<rect x="570.5" y="319.5" width="114" height="60"/>
<line x1="813.5" y1="411.5" x2="813.5" y2="428.5"/>
<line x1="889.5" y1="411.5" x2="889.5" y2="428.5"/>
<line x1="767.5" y1="428.5" x2="892.5" y2="428.5"/>
<rect x="840" y="378.9" width="11.7" height="1" style="fill:#000;stroke:none"/>
<rect x="840" y="381.3" width="11.7" height="1.7" style="fill:#000;stroke:none"/>
<rect x="840" y="384.1" width="11.7" height="4" style="fill:#000;stroke:none"/>
<polygon points="836.7,387.6 855.7,387.6 846.3,392.8" class="bf"/>
<rect x="892.5" y="429.5" width="25" height="103"/>
<rect x="894.5" y="431.5" width="21" height="99"/>
<line x1="894.5" y1="431.5" x2="915.5" y2="530.5" class="t"/>
<line x1="894.5" y1="530.5" x2="915.5" y2="431.5" class="t"/>
<rect x="852.5" y="533.5" width="65" height="43"/>
<rect x="854.5" y="535.5" width="61" height="39"/>
<line x1="854.5" y1="535.7" x2="915.5" y2="574.3" class="t"/>
<line x1="854.5" y1="574.3" x2="915.5" y2="535.7" class="t"/>
<line x1="917.5" y1="428.5" x2="917.5" y2="576.3"/>
<polyline points="889.5,428.5 917.5,428.5"/>
<rect x="840.5" y="574.5" width="5" height="11" class="t"/>
<line x1="845" y1="576.5" x2="852.5" y2="576.5"/>
<line x1="845" y1="585.5" x2="995.5" y2="585.5"/>
<rect x="844.5" y="585.5" width="151" height="38"/>
<rect x="846.5" y="587.5" width="147" height="33"/>
<line x1="846.7" y1="587.2" x2="993.3" y2="620.8" class="t"/>
<line x1="846.7" y1="620.8" x2="993.3" y2="587.2" class="t"/>
<rect x="970.5" y="625.5" width="25" height="181"/>
<rect x="972.5" y="627.5" width="21" height="177"/>
<line x1="970.5" y1="721.5" x2="995.5" y2="721.5"/>
<line x1="972.5" y1="627.5" x2="993.5" y2="721.3" class="t"/>
<line x1="972.5" y1="721.3" x2="993.5" y2="627.5" class="t"/>
<line x1="972.5" y1="721.3" x2="993.5" y2="804.3" class="t"/>
<line x1="972.5" y1="804.3" x2="993.5" y2="721.3" class="t"/>
<line x1="995.5" y1="585" x2="995.5" y2="820.7"/>
<polyline points="776.5,820.5 809.5,820.5"/>
<polyline points="909.5,820.5 995.5,820.5"/>
<path d="M779.2 812.06 a2.03 2.15 0 0 1 4.05 0 a2.03 2.15 0 0 0 4.05 0 a2.03 2.15 0 0 1 4.05 0 a2.03 2.15 0 0 0 4.05 0 a2.03 2.15 0 0 1 4.05 0 a2.03 2.15 0 0 0 4.05 0 a2.03 2.15 0 0 1 4.05 0 a2.03 2.15 0 0 0 4.05 0 a2.03 2.15 0 0 1 4.05 0 a2.03 2.15 0 0 0 4.05 0 a2.03 2.15 0 0 1 4.05 0" class="w"/>
<path d="M779.2 816.05 a2.03 2.15 0 0 1 4.05 0 a2.03 2.15 0 0 0 4.05 0 a2.03 2.15 0 0 1 4.05 0 a2.03 2.15 0 0 0 4.05 0 a2.03 2.15 0 0 1 4.05 0 a2.03 2.15 0 0 0 4.05 0 a2.03 2.15 0 0 1 4.05 0 a2.03 2.15 0 0 0 4.05 0 a2.03 2.15 0 0 1 4.05 0 a2.03 2.15 0 0 0 4.05 0 a2.03 2.15 0 0 1 4.05 0" class="w"/>
<polyline points="822.7,810.26 825.1,812.06 822.7,813.86" class="w"/>
<polyline points="822.7,814.25 825.1,816.05 822.7,817.85" class="w"/>
<path d="M948.8 812.06 a2.02 2.15 0 0 1 4.05 0 a2.02 2.15 0 0 0 4.05 0 a2.02 2.15 0 0 1 4.05 0 a2.02 2.15 0 0 0 4.05 0 a2.02 2.15 0 0 1 4.05 0 a2.02 2.15 0 0 0 4.05 0 a2.02 2.15 0 0 1 4.05 0 a2.02 2.15 0 0 0 4.05 0 a2.02 2.15 0 0 1 4.05 0 a2.02 2.15 0 0 0 4.05 0 a2.02 2.15 0 0 1 4.05 0" class="w"/>
<path d="M948.8 816.05 a2.02 2.15 0 0 1 4.05 0 a2.02 2.15 0 0 0 4.05 0 a2.02 2.15 0 0 1 4.05 0 a2.02 2.15 0 0 0 4.05 0 a2.02 2.15 0 0 1 4.05 0 a2.02 2.15 0 0 0 4.05 0 a2.02 2.15 0 0 1 4.05 0 a2.02 2.15 0 0 0 4.05 0 a2.02 2.15 0 0 1 4.05 0 a2.02 2.15 0 0 0 4.05 0 a2.02 2.15 0 0 1 4.05 0" class="w"/>
<polyline points="949.9,810.26 947.5,812.06 949.9,813.86" class="w"/>
<polyline points="949.9,814.25 947.5,816.05 949.9,817.85" class="w"/>
<rect x="809.5" y="818.5" width="4" height="21" class="t"/>
<rect x="904.5" y="818.5" width="5" height="21" class="t"/>
<rect x="813.5" y="828.5" width="47" height="4" class="t"/>
<rect x="860.5" y="826.5" width="44" height="3" class="t"/>
<rect x="781.5" y="585.5" width="4" height="60" class="t" style="fill:#b8b8b8"/>
<path d="M780.3 632 v5.5 M786.8 632 v5.5" class="k2"/>
<line x1="780.3" y1="636.5" x2="786.8" y2="636.5" class="t"/>
<rect x="777.5" y="575.5" width="6" height="9" class="t"/>
<rect x="781.5" y="575.5" width="2" height="9" class="gf"/>
<path d="M843 585 A58 60 0 0 1 785 645.5" class="d"/>
<path d="M870 678 L895.7 678 L895.7 776.3 L870 776.3 Q849.5 727 870 678 Z"/>
<path d="M870.8 678 Q850.8 727 870.8 776.3" class="t"/>
<rect x="878.5" y="669.5" width="31" height="17"/>
<rect x="876.5" y="714.5" width="19" height="26" style="fill:#4a4a4a"/>
<path d="M877 718l6 7M877 724l10 12M877 731l8 9M881 715l14 17M886 715l9 11M891 715l4 5M879 736l3 4" style="stroke:#fff;stroke-width:1;stroke-dasharray:1.2 1.4"/>
<path d="M877 722h18M877 729h18M877 735h18" style="stroke:#ddd;stroke-width:.6;stroke-dasharray:1 2"/>
<rect x="873.5" y="725.5" width="3" height="4" class="t"/>
<circle cx="876.8" cy="757" r="7.3" class="t"/>
<circle cx="876.8" cy="757" r="4" class="t"/>
<line x1="867.5" y1="757.5" x2="886" y2="757.5" class="t"/>
<line x1="876.5" y1="748" x2="876.5" y2="766.5" class="t"/>
<rect x="907.5" y="718.5" width="19" height="25" rx="2"/>
<path d="M907.5 716 H921 M907.5 745.8 H921" class="k2"/>
<path d="M926.5 719 Q932.5 731 926.5 743 M928.5 720 Q934.5 731 928.5 742" class="t"/>
<path d="M929.6 723 Q932 731 929.6 739" style="stroke-width:2.2;stroke:#333"/>
<polyline points="460.5,379.5 475.5,379.5 477.5,378.5 477.5,368.5 468.5,368.5 468.5,305.5 477.5,305.5"/>
<line x1="456.6" y1="297.5" x2="517" y2="297.5"/>
<rect x="468.5" y="308.5" width="19" height="54"/>
<rect x="470.5" y="310.5" width="15" height="50"/>
<rect x="469.5" y="309.5" width="17" height="52" class="t"/>
<line x1="470.4" y1="360.3" x2="485.9" y2="310" class="t"/>
</g>
<g opacity=".999"><g font-size="19.2">
<text x="462" y="17.5"><tspan class="cj">由</tspan> <tspan class="b">Autodesk</tspan> <tspan class="cj">教育版产品制作</tspan></text>
<text transform="translate(737.4 942.5) rotate(180)"><tspan class="cj">由</tspan> <tspan class="b">Autodesk</tspan> <tspan class="cj">教育版产品制作</tspan></text>
<text transform="translate(16.9 617.4) rotate(-90)"><tspan class="cj">由</tspan> <tspan class="b">Autodesk</tspan> <tspan class="cj">教育版产品制作</tspan></text>
<text transform="translate(1182 343.4) rotate(90)"><tspan class="cj">由</tspan> <tspan class="b">Autodesk</tspan> <tspan class="cj">教育版产品制作</tspan></text>
</g>
<text x="834.4" y="372.4" style="font-family:'Noto Sans CJK SC','Liberation Sans',sans-serif;font-weight:300;font-size:10.6px;letter-spacing:1.2px">入口</text>
<text transform="translate(503.2 874.6) rotate(-90)" style="font-size:11.5px;letter-spacing:0" class="cj">洗衣机</text>
</g>
</svg>
</body></html>
